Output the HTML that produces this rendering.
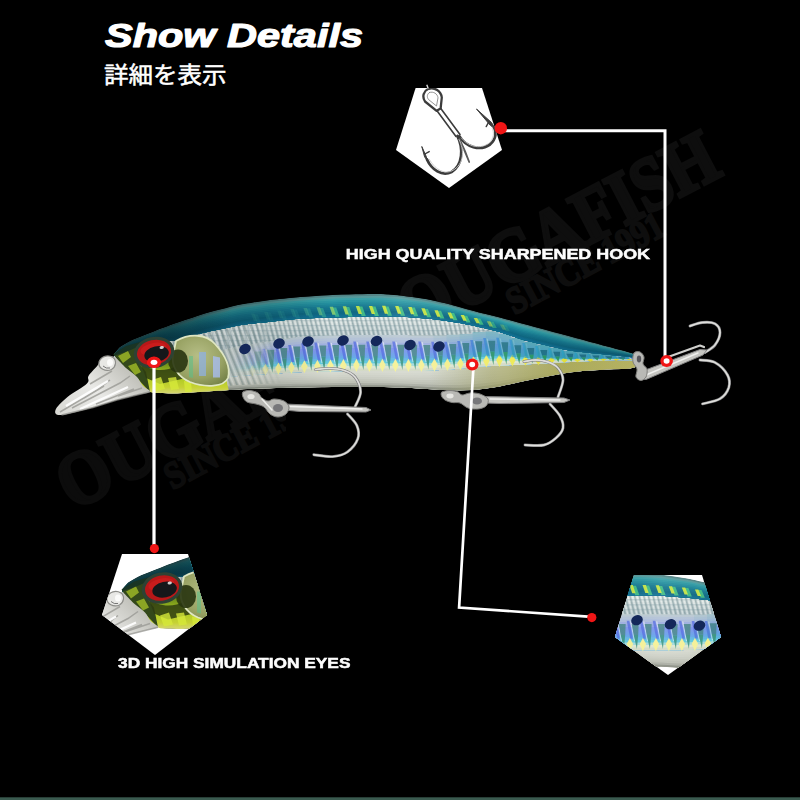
<!DOCTYPE html>
<html><head><meta charset="utf-8"><title>Show Details</title>
<style>
html,body{margin:0;padding:0;background:#000;}
body{width:800px;height:800px;overflow:hidden;font-family:"Liberation Sans",sans-serif;}
svg{display:block}
.lbl{font-family:"Liberation Sans",sans-serif;font-weight:700;fill:#fff;stroke:#fff;stroke-width:0.5}
.wm{font-family:"Liberation Serif",serif;font-weight:700;fill:#121212;stroke:#121212;stroke-width:3}
</style></head><body>
<svg width="800" height="800" viewBox="0 0 800 800">
<defs>

<clipPath id="bodyclip"><path d="M113.5,354.0C114.6,352.8 117.2,349.2 120.0,347.0C122.8,344.8 125.8,343.0 130.0,341.0C134.2,339.0 140.0,337.0 145.0,335.0C150.0,333.0 155.0,330.9 160.0,329.0C165.0,327.1 170.0,325.2 175.0,323.5C180.0,321.8 185.0,320.2 190.0,318.5C195.0,316.8 200.0,315.0 205.0,313.5C210.0,312.0 214.2,311.0 220.0,309.5C225.8,308.0 231.7,306.1 240.0,304.5C248.3,302.9 260.0,301.2 270.0,300.0C280.0,298.8 288.3,297.9 300.0,297.0C311.7,296.1 326.7,295.0 340.0,294.5C353.3,294.0 370.0,293.9 380.0,294.0C390.0,294.1 392.5,294.6 400.0,295.4C407.5,296.2 416.7,297.3 425.0,298.8C433.3,300.3 441.7,302.3 450.0,304.4C458.3,306.5 466.7,309.1 475.0,311.3C483.3,313.5 492.5,315.6 500.0,317.5C507.5,319.4 510.0,320.2 520.0,322.9C530.0,325.6 546.7,330.1 560.0,333.7C573.3,337.3 588.7,341.4 600.0,344.5C611.3,347.6 622.0,350.3 628.0,352.0C634.0,353.7 634.7,354.1 636.0,354.5L636.0,367.0C635.3,367.2 634.0,368.2 632.0,368.5C630.0,368.8 629.3,368.8 624.0,369.0C618.7,369.2 609.0,369.4 600.0,370.0C591.0,370.6 581.7,370.8 570.0,372.5C558.3,374.2 541.7,377.7 530.0,380.0C518.3,382.3 508.3,384.9 500.0,386.5C491.7,388.1 486.7,388.8 480.0,389.5C473.3,390.2 466.7,390.4 460.0,390.5C453.3,390.6 450.0,390.5 440.0,390.0C430.0,389.5 416.7,388.0 400.0,387.5C383.3,387.0 360.0,386.9 340.0,387.0C320.0,387.1 296.7,387.6 280.0,388.0C263.3,388.4 253.3,388.8 240.0,389.5C226.7,390.2 210.8,391.3 200.0,392.0C189.2,392.7 181.7,393.3 175.0,393.5C168.3,393.7 164.2,393.2 160.0,393.0C155.8,392.8 153.2,393.3 150.0,392.0C146.8,390.7 143.5,387.7 141.0,385.0C138.5,382.3 137.8,378.8 135.0,376.0C132.2,373.2 127.8,371.2 124.5,368.5C121.2,365.8 117.3,361.9 115.5,359.5C113.7,357.1 113.8,354.9 113.5,354.0Z"/></clipPath>
<linearGradient id="gshadex" x1="113" y1="0" x2="636" y2="0" gradientUnits="userSpaceOnUse">
 <stop offset="0" stop-color="#001014" stop-opacity="0.5"/><stop offset="0.14" stop-color="#001418" stop-opacity="0.34"/><stop offset="0.3" stop-color="#001418" stop-opacity="0.2"/><stop offset="0.42" stop-color="#001418" stop-opacity="0.0"/><stop offset="0.55" stop-color="#fff" stop-opacity="0.08"/><stop offset="0.75" stop-color="#001014" stop-opacity="0.0"/><stop offset="1" stop-color="#001014" stop-opacity="0.22"/>
</linearGradient>
<linearGradient id="golive" x1="430" y1="0" x2="636" y2="0" gradientUnits="userSpaceOnUse">
 <stop offset="0" stop-color="#a3a56e" stop-opacity="0"/><stop offset="0.3" stop-color="#a8a868" stop-opacity="0.6"/><stop offset="0.65" stop-color="#b3b160" stop-opacity="1"/><stop offset="1" stop-color="#c9c46a" stop-opacity="1"/>
</linearGradient>
<pattern id="pscale" width="4.6" height="5" patternUnits="userSpaceOnUse" patternTransform="skewX(14)">
 <rect x="0" width="1.5" height="5" fill="#5f7f88" opacity="0.45"/><rect x="2.4" width="1.2" height="5" fill="#fff" opacity="0.5"/><rect y="0" width="4.6" height="1.2" fill="#6f8f98" opacity="0.28"/>
</pattern>
<linearGradient id="glip" x1="60" y1="415" x2="120" y2="355" gradientUnits="userSpaceOnUse">
 <stop offset="0" stop-color="#d9d9d4"/><stop offset="0.5" stop-color="#e9e9e6"/><stop offset="1" stop-color="#bdbdb6"/>
</linearGradient>
<radialGradient id="ggill" cx="0.45" cy="0.4" r="0.75">
 <stop offset="0" stop-color="#b6be86"/><stop offset="0.6" stop-color="#97a162"/><stop offset="1" stop-color="#6c7a42"/>
</radialGradient>
<linearGradient id="ghead" x1="0" y1="360" x2="0" y2="394" gradientUnits="userSpaceOnUse">
 <stop offset="0" stop-color="#5c7a1a"/><stop offset="0.45" stop-color="#a8c81e"/><stop offset="0.8" stop-color="#c6d233"/><stop offset="1" stop-color="#d6d67a"/>
</linearGradient>
<linearGradient id="gsteel" x1="0" y1="0" x2="0" y2="1">
 <stop offset="0" stop-color="#e6e6e2"/><stop offset="0.5" stop-color="#b8b8b4"/><stop offset="1" stop-color="#8c8c88"/>
</linearGradient>

<clipPath id="cp1"><polygon points="415.6,88 482,88 502,150 449,188 396,150"/></clipPath>
<clipPath id="cp2"><polygon points="122,554 188,554 207,615 155,655 102,615"/></clipPath>
<clipPath id="cp3"><polygon points="634,575 702,575 721,637 668,675 615,637"/></clipPath>
<linearGradient id="g3teal" x1="0" y1="575" x2="0" y2="598" gradientUnits="userSpaceOnUse"><stop offset="0" stop-color="#3f9aa2"/><stop offset="0.35" stop-color="#63b5b5"/><stop offset="0.6" stop-color="#2b8b9a"/><stop offset="1" stop-color="#1f7f92"/></linearGradient>
<linearGradient id="g3holo" x1="0" y1="612" x2="0" y2="652" gradientUnits="userSpaceOnUse"><stop offset="0" stop-color="#a9bac4"/><stop offset="0.5" stop-color="#8fb0c4"/><stop offset="0.85" stop-color="#b5cbb0"/><stop offset="1" stop-color="#c9ccbc"/></linearGradient>
<pattern id="pscale3" width="5.4" height="5.2" patternUnits="userSpaceOnUse"><rect x="0" width="1.6" height="5.2" fill="#6f8f98" opacity="0.45"/><rect x="2.8" width="1.4" height="5.2" fill="#fff" opacity="0.5"/><rect width="5.4" height="1.3" fill="#6f8f98" opacity="0.3"/></pattern>
<linearGradient id="g2lime" x1="0" y1="596" x2="0" y2="628" gradientUnits="userSpaceOnUse"><stop offset="0" stop-color="#2c4216"/><stop offset="0.45" stop-color="#4c6a18"/><stop offset="0.7" stop-color="#93bb1c"/><stop offset="1" stop-color="#c3cf3a"/></linearGradient>
<clipPath id="cpwm"><rect x="0" y="380" width="286" height="200"/></clipPath>
<linearGradient id="gheadshade" x1="113" y1="0" x2="232" y2="0" gradientUnits="userSpaceOnUse"><stop offset="0" stop-color="#06262c" stop-opacity="0.6"/><stop offset="0.5" stop-color="#06262c" stop-opacity="0.5"/><stop offset="1" stop-color="#06262c" stop-opacity="0"/></linearGradient>
<linearGradient id="gsilverx" x1="200" y1="0" x2="275" y2="0" gradientUnits="userSpaceOnUse"><stop offset="0" stop-color="#c6d0cc" stop-opacity="1"/><stop offset="0.45" stop-color="#c6d0cc" stop-opacity="0.95"/><stop offset="1" stop-color="#c6d0cc" stop-opacity="0"/></linearGradient>
<linearGradient id="gribfade" x1="196" y1="0" x2="282" y2="0" gradientUnits="userSpaceOnUse"><stop offset="0" stop-color="#fff" stop-opacity="1"/><stop offset="0.6" stop-color="#fff" stop-opacity="0.8"/><stop offset="1" stop-color="#fff" stop-opacity="0"/></linearGradient>
<pattern id="pribs" width="6.2" height="80" patternUnits="userSpaceOnUse" patternTransform="skewX(22)"><rect x="0" width="2" height="80" fill="#7c8f90" opacity="0.6"/><rect x="3" width="1.8" height="80" fill="#fff" opacity="0.6"/></pattern>
<mask id="mribs" maskUnits="userSpaceOnUse" x="190" y="300" width="110" height="100"><rect x="190" y="300" width="110" height="100" fill="url(#gribfade)"/></mask>
<filter id="fblur" x="-30%" y="-30%" width="160%" height="160%"><feGaussianBlur stdDeviation="0.55"/></filter>

</defs>
<rect width="800" height="800" fill="#000"/>
<rect x="0" y="797.3" width="800" height="2.7" fill="#3a5a4f"/>
<g class="wm" opacity="1">
<g fill="#0e0e0e" stroke="#0e0e0e">
<text transform="translate(415,335) rotate(-27.5) scale(0.86,1)" font-size="76" stroke-width="4">OUGAFISH</text>
<text transform="translate(514.5,315) rotate(-28) scale(0.86,1)" font-size="38" stroke-width="2.2">SINCE 1991</text>
</g>
<g fill="#0c0c0c" stroke="#0c0c0c" clip-path="url(#cpwm)">
<text transform="translate(73,511) rotate(-27.5) scale(0.88,1)" font-size="76" stroke-width="4">OUGAFISH</text>
<text transform="translate(172.5,490) rotate(-28) scale(0.86,1)" font-size="38" stroke-width="2.2">SINCE 1991</text>
</g>
</g>

<text x="105" y="46.8" font-family="&quot;Liberation Sans&quot;, sans-serif" font-size="34" font-weight="700" font-style="italic" fill="#fff" stroke="#fff" stroke-width="1.2" stroke-linejoin="round" textLength="258" lengthAdjust="spacingAndGlyphs">Show Details</text>
<text x="104" y="82.9" font-family="&quot;Liberation Sans&quot;, &quot;Noto Sans CJK JP&quot;, sans-serif" font-size="22.5" fill="#fff" stroke="#fff" stroke-width="0.5" textLength="122.5" lengthAdjust="spacingAndGlyphs">詳細を表示</text>
<g fill="none" stroke="#fff" stroke-width="3" stroke-linejoin="miter">
<polyline points="505,130.7 665,130.7 665,357"/>
</g>
<g id="fish">
<g id="fishbody">
<g clip-path="url(#bodyclip)">
<path d="M114,380.0L120,380.0L127,380.0L133,380.0L140,380.0L146,380.0L153,380.0L159,380.0L166,380.0L172,380.0L179,380.0L185,380.0L192,380.0L198,380.0L205,379.3L211,378.5L218,377.7L225,377.2L231,376.6L238,376.1L244,375.5L251,375.0L257,374.6L264,374.2L270,373.8L277,373.4L283,373.0L290,372.6L296,372.2L303,371.9L309,371.8L316,371.7L322,371.6L329,371.4L336,371.3L342,371.2L349,371.0L355,371.0L362,371.0L368,371.0L375,371.0L381,371.0L388,371.0L394,371.0L401,371.0L407,371.0L414,371.0L420,371.0L427,370.6L434,370.3L440,370.0L447,369.7L453,369.2L460,368.5L466,367.9L473,367.2L479,366.6L486,366.2L492,366.0L499,365.7L505,365.4L512,365.1L518,364.8L525,364.5L532,364.1L538,363.8L545,363.4L551,363.1L558,362.7L564,362.3L571,362.0L577,361.7L584,361.4L590,361.1L597,360.8L603,360.5L610,360.2L616,360.0L623,360.2L629,360.3L636,360.5L636,367.0L629,368.7L623,369.0L616,369.3L610,369.6L603,369.9L597,370.3L590,370.8L584,371.4L577,371.9L571,372.4L564,373.6L558,374.8L551,376.0L545,377.3L538,378.5L532,379.7L525,381.1L518,382.5L512,383.9L505,385.3L499,386.7L492,387.7L486,388.6L479,389.5L473,389.9L466,390.2L460,390.5L453,390.3L447,390.2L440,390.0L434,389.6L427,389.2L420,388.8L414,388.4L407,388.0L401,387.6L394,387.5L388,387.4L381,387.3L375,387.3L368,387.2L362,387.2L355,387.1L349,387.1L342,387.0L336,387.1L329,387.2L322,387.3L316,387.4L309,387.5L303,387.6L296,387.7L290,387.8L283,387.9L277,388.1L270,388.4L264,388.6L257,388.9L251,389.1L244,389.3L238,389.7L231,390.1L225,390.5L218,390.9L211,391.3L205,391.7L198,392.1L192,392.5L185,392.9L179,393.3L172,393.4L166,393.2L159,392.9L153,392.3L146,389.0L140,382.9L133,374.6L127,370.0L120,364.0L114,354.0Z" fill="#d7dad0"/><path d="M114,376.8L120,378.0L127,378.7L133,379.3L140,380.4L146,381.1L153,381.5L159,381.6L166,381.6L172,381.7L179,381.7L185,381.6L192,381.6L198,381.5L205,380.9L211,380.1L218,379.4L225,378.8L231,378.3L238,377.8L244,377.2L251,376.7L257,376.4L264,376.0L270,375.6L277,375.2L283,374.9L290,374.5L296,374.2L303,373.9L309,373.8L316,373.6L322,373.5L329,373.4L336,373.3L342,373.1L349,373.0L355,373.0L362,373.0L368,373.0L375,373.0L381,373.0L388,373.0L394,373.1L401,373.1L407,373.1L414,373.2L420,373.2L427,373.0L434,372.7L440,372.5L447,372.2L453,371.8L460,371.3L466,370.7L473,370.1L479,369.4L486,369.0L492,368.7L499,368.3L505,367.9L512,367.4L518,367.0L525,366.6L532,366.1L538,365.6L545,365.1L551,364.7L558,364.2L564,363.7L571,363.3L577,363.0L584,362.6L590,362.3L597,362.0L603,361.7L610,361.4L616,361.2L623,361.3L629,361.4L636,361.3L636,367.0L629,368.7L623,369.0L616,369.3L610,369.6L603,369.9L597,370.3L590,370.8L584,371.4L577,371.9L571,372.4L564,373.6L558,374.8L551,376.0L545,377.3L538,378.5L532,379.7L525,381.1L518,382.5L512,383.9L505,385.3L499,386.7L492,387.7L486,388.6L479,389.5L473,389.9L466,390.2L460,390.5L453,390.3L447,390.2L440,390.0L434,389.6L427,389.2L420,388.8L414,388.4L407,388.0L401,387.6L394,387.5L388,387.4L381,387.3L375,387.3L368,387.2L362,387.2L355,387.1L349,387.1L342,387.0L336,387.1L329,387.2L322,387.3L316,387.4L309,387.5L303,387.6L296,387.7L290,387.8L283,387.9L277,388.1L270,388.4L264,388.6L257,388.9L251,389.1L244,389.3L238,389.7L231,390.1L225,390.5L218,390.9L211,391.3L205,391.7L198,392.1L192,392.5L185,392.9L179,393.3L172,393.4L166,393.2L159,392.9L153,392.3L146,389.0L140,382.9L133,374.6L127,370.0L120,364.0L114,354.0Z" fill="#d4d7cd"/><path d="M114,373.5L120,376.0L127,377.5L133,378.7L140,380.7L146,382.3L153,383.1L159,383.2L166,383.3L172,383.4L179,383.3L185,383.2L192,383.1L198,383.0L205,382.4L211,381.7L218,381.0L225,380.5L231,380.0L238,379.5L244,379.0L251,378.5L257,378.1L264,377.8L270,377.4L277,377.1L283,376.7L290,376.4L296,376.1L303,375.9L309,375.7L316,375.6L322,375.5L329,375.4L336,375.2L342,375.1L349,375.0L355,375.0L362,375.0L368,375.1L375,375.1L381,375.1L388,375.1L394,375.1L401,375.1L407,375.2L414,375.3L420,375.4L427,375.3L434,375.1L440,375.0L447,374.8L453,374.5L460,374.0L466,373.5L473,372.9L479,372.3L486,371.8L492,371.4L499,370.9L505,370.4L512,369.8L518,369.2L525,368.6L532,368.0L538,367.5L545,366.9L551,366.3L558,365.7L564,365.1L571,364.6L577,364.2L584,363.9L590,363.5L597,363.2L603,362.9L610,362.6L616,362.4L623,362.4L629,362.4L636,362.1L636,367.0L629,368.7L623,369.0L616,369.3L610,369.6L603,369.9L597,370.3L590,370.8L584,371.4L577,371.9L571,372.4L564,373.6L558,374.8L551,376.0L545,377.3L538,378.5L532,379.7L525,381.1L518,382.5L512,383.9L505,385.3L499,386.7L492,387.7L486,388.6L479,389.5L473,389.9L466,390.2L460,390.5L453,390.3L447,390.2L440,390.0L434,389.6L427,389.2L420,388.8L414,388.4L407,388.0L401,387.6L394,387.5L388,387.4L381,387.3L375,387.3L368,387.2L362,387.2L355,387.1L349,387.1L342,387.0L336,387.1L329,387.2L322,387.3L316,387.4L309,387.5L303,387.6L296,387.7L290,387.8L283,387.9L277,388.1L270,388.4L264,388.6L257,388.9L251,389.1L244,389.3L238,389.7L231,390.1L225,390.5L218,390.9L211,391.3L205,391.7L198,392.1L192,392.5L185,392.9L179,393.3L172,393.4L166,393.2L159,392.9L153,392.3L146,389.0L140,382.9L133,374.6L127,370.0L120,364.0L114,354.0Z" fill="#d0d3c9"/><path d="M114,370.2L120,374.0L127,376.2L133,378.0L140,381.1L146,383.4L153,384.6L159,384.8L166,384.9L172,385.0L179,385.0L185,384.8L192,384.7L198,384.5L205,384.0L211,383.3L218,382.7L225,382.2L231,381.7L238,381.2L244,380.7L251,380.3L257,379.9L264,379.6L270,379.3L277,378.9L283,378.6L290,378.3L296,378.0L303,377.8L309,377.7L316,377.6L322,377.5L329,377.3L336,377.2L342,377.1L349,377.0L355,377.0L362,377.1L368,377.1L375,377.1L381,377.1L388,377.1L394,377.2L401,377.2L407,377.4L414,377.5L420,377.7L427,377.6L434,377.6L440,377.5L447,377.4L453,377.1L460,376.8L466,376.2L473,375.7L479,375.2L486,374.6L492,374.1L499,373.5L505,372.9L512,372.1L518,371.4L525,370.7L532,370.0L538,369.3L545,368.6L551,367.9L558,367.2L564,366.6L571,365.9L577,365.5L584,365.1L590,364.7L597,364.4L603,364.0L610,363.7L616,363.5L623,363.5L629,363.5L636,362.9L636,367.0L629,368.7L623,369.0L616,369.3L610,369.6L603,369.9L597,370.3L590,370.8L584,371.4L577,371.9L571,372.4L564,373.6L558,374.8L551,376.0L545,377.3L538,378.5L532,379.7L525,381.1L518,382.5L512,383.9L505,385.3L499,386.7L492,387.7L486,388.6L479,389.5L473,389.9L466,390.2L460,390.5L453,390.3L447,390.2L440,390.0L434,389.6L427,389.2L420,388.8L414,388.4L407,388.0L401,387.6L394,387.5L388,387.4L381,387.3L375,387.3L368,387.2L362,387.2L355,387.1L349,387.1L342,387.0L336,387.1L329,387.2L322,387.3L316,387.4L309,387.5L303,387.6L296,387.7L290,387.8L283,387.9L277,388.1L270,388.4L264,388.6L257,388.9L251,389.1L244,389.3L238,389.7L231,390.1L225,390.5L218,390.9L211,391.3L205,391.7L198,392.1L192,392.5L185,392.9L179,393.3L172,393.4L166,393.2L159,392.9L153,392.3L146,389.0L140,382.9L133,374.6L127,370.0L120,364.0L114,354.0Z" fill="#cbcec4"/><path d="M114,367.0L120,372.0L127,375.0L133,377.3L140,381.5L146,384.5L153,386.1L159,386.5L166,386.6L172,386.7L179,386.6L185,386.4L192,386.2L198,386.0L205,385.5L211,384.9L218,384.3L225,383.8L231,383.3L238,382.9L244,382.4L251,382.0L257,381.7L264,381.4L270,381.1L277,380.8L283,380.5L290,380.2L296,380.0L303,379.8L309,379.7L316,379.5L322,379.4L329,379.3L336,379.2L342,379.1L349,379.0L355,379.1L362,379.1L368,379.1L375,379.1L381,379.2L388,379.2L394,379.2L401,379.3L407,379.5L414,379.7L420,379.9L427,379.9L434,380.0L440,380.0L447,379.9L453,379.8L460,379.5L466,379.0L473,378.5L479,378.1L486,377.4L492,376.8L499,376.2L505,375.4L512,374.5L518,373.6L525,372.8L532,371.9L538,371.1L545,370.3L551,369.5L558,368.8L564,368.0L571,367.2L577,366.8L584,366.4L590,366.0L597,365.5L603,365.2L610,364.9L616,364.7L623,364.6L629,364.5L636,363.8L636,367.0L629,368.7L623,369.0L616,369.3L610,369.6L603,369.9L597,370.3L590,370.8L584,371.4L577,371.9L571,372.4L564,373.6L558,374.8L551,376.0L545,377.3L538,378.5L532,379.7L525,381.1L518,382.5L512,383.9L505,385.3L499,386.7L492,387.7L486,388.6L479,389.5L473,389.9L466,390.2L460,390.5L453,390.3L447,390.2L440,390.0L434,389.6L427,389.2L420,388.8L414,388.4L407,388.0L401,387.6L394,387.5L388,387.4L381,387.3L375,387.3L368,387.2L362,387.2L355,387.1L349,387.1L342,387.0L336,387.1L329,387.2L322,387.3L316,387.4L309,387.5L303,387.6L296,387.7L290,387.8L283,387.9L277,388.1L270,388.4L264,388.6L257,388.9L251,389.1L244,389.3L238,389.7L231,390.1L225,390.5L218,390.9L211,391.3L205,391.7L198,392.1L192,392.5L185,392.9L179,393.3L172,393.4L166,393.2L159,392.9L153,392.3L146,389.0L140,382.9L133,374.6L127,370.0L120,364.0L114,354.0Z" fill="#c5c8bd"/><path d="M114,363.8L120,370.0L127,373.7L133,376.6L140,381.8L146,385.6L153,387.7L159,388.1L166,388.2L172,388.4L179,388.3L185,388.0L192,387.8L198,387.6L205,387.1L211,386.5L218,386.0L225,385.5L231,385.0L238,384.6L244,384.2L251,383.8L257,383.5L264,383.2L270,382.9L277,382.6L283,382.3L290,382.1L296,381.9L303,381.7L309,381.6L316,381.5L322,381.4L329,381.3L336,381.2L342,381.1L349,381.1L355,381.1L362,381.1L368,381.1L375,381.2L381,381.2L388,381.2L394,381.3L401,381.3L407,381.6L414,381.9L420,382.1L427,382.2L434,382.4L440,382.5L447,382.5L453,382.4L460,382.3L466,381.8L473,381.4L479,380.9L486,380.2L492,379.5L499,378.8L505,377.8L512,376.9L518,375.9L525,374.9L532,373.9L538,373.0L545,372.1L551,371.2L558,370.3L564,369.4L571,368.5L577,368.1L584,367.6L590,367.2L597,366.7L603,366.4L610,366.1L616,365.8L623,365.7L629,365.5L636,364.6L636,367.0L629,368.7L623,369.0L616,369.3L610,369.6L603,369.9L597,370.3L590,370.8L584,371.4L577,371.9L571,372.4L564,373.6L558,374.8L551,376.0L545,377.3L538,378.5L532,379.7L525,381.1L518,382.5L512,383.9L505,385.3L499,386.7L492,387.7L486,388.6L479,389.5L473,389.9L466,390.2L460,390.5L453,390.3L447,390.2L440,390.0L434,389.6L427,389.2L420,388.8L414,388.4L407,388.0L401,387.6L394,387.5L388,387.4L381,387.3L375,387.3L368,387.2L362,387.2L355,387.1L349,387.1L342,387.0L336,387.1L329,387.2L322,387.3L316,387.4L309,387.5L303,387.6L296,387.7L290,387.8L283,387.9L277,388.1L270,388.4L264,388.6L257,388.9L251,389.1L244,389.3L238,389.7L231,390.1L225,390.5L218,390.9L211,391.3L205,391.7L198,392.1L192,392.5L185,392.9L179,393.3L172,393.4L166,393.2L159,392.9L153,392.3L146,389.0L140,382.9L133,374.6L127,370.0L120,364.0L114,354.0Z" fill="#bfc2b7"/><path d="M114,360.5L120,368.0L127,372.5L133,376.0L140,382.2L146,386.8L153,389.2L159,389.7L166,389.9L172,390.1L179,390.0L185,389.7L192,389.4L198,389.1L205,388.6L211,388.1L218,387.6L225,387.1L231,386.7L238,386.3L244,385.9L251,385.6L257,385.3L264,385.0L270,384.7L277,384.4L283,384.2L290,384.0L296,383.8L303,383.7L309,383.6L316,383.5L322,383.4L329,383.2L336,383.1L342,383.1L349,383.1L355,383.1L362,383.1L368,383.2L375,383.2L381,383.3L388,383.3L394,383.3L401,383.4L407,383.7L414,384.0L420,384.3L427,384.6L434,384.8L440,385.0L447,385.0L453,385.0L460,385.0L466,384.6L473,384.2L479,383.8L486,383.0L492,382.2L499,381.4L505,380.3L512,379.2L518,378.1L525,376.9L532,375.8L538,374.8L545,373.8L551,372.8L558,371.8L564,370.8L571,369.8L577,369.3L584,368.9L590,368.4L597,367.9L603,367.5L610,367.2L616,367.0L623,366.8L629,366.6L636,365.4L636,367.0L629,368.7L623,369.0L616,369.3L610,369.6L603,369.9L597,370.3L590,370.8L584,371.4L577,371.9L571,372.4L564,373.6L558,374.8L551,376.0L545,377.3L538,378.5L532,379.7L525,381.1L518,382.5L512,383.9L505,385.3L499,386.7L492,387.7L486,388.6L479,389.5L473,389.9L466,390.2L460,390.5L453,390.3L447,390.2L440,390.0L434,389.6L427,389.2L420,388.8L414,388.4L407,388.0L401,387.6L394,387.5L388,387.4L381,387.3L375,387.3L368,387.2L362,387.2L355,387.1L349,387.1L342,387.0L336,387.1L329,387.2L322,387.3L316,387.4L309,387.5L303,387.6L296,387.7L290,387.8L283,387.9L277,388.1L270,388.4L264,388.6L257,388.9L251,389.1L244,389.3L238,389.7L231,390.1L225,390.5L218,390.9L211,391.3L205,391.7L198,392.1L192,392.5L185,392.9L179,393.3L172,393.4L166,393.2L159,392.9L153,392.3L146,389.0L140,382.9L133,374.6L127,370.0L120,364.0L114,354.0Z" fill="#adb0a6"/><path d="M114,357.2L120,366.0L127,371.2L133,375.3L140,382.6L146,387.9L153,390.7L159,391.3L166,391.5L172,391.7L179,391.6L185,391.3L192,390.9L198,390.6L205,390.1L211,389.7L218,389.2L225,388.8L231,388.4L238,388.0L244,387.6L251,387.3L257,387.1L264,386.8L270,386.5L277,386.3L283,386.1L290,385.9L296,385.8L303,385.7L309,385.5L316,385.4L322,385.3L329,385.2L336,385.1L342,385.0L349,385.1L355,385.1L362,385.2L368,385.2L375,385.3L381,385.3L388,385.3L394,385.4L401,385.5L407,385.8L414,386.2L420,386.6L427,386.9L434,387.2L440,387.5L447,387.6L453,387.7L460,387.7L466,387.4L473,387.0L479,386.7L486,385.8L492,384.9L499,384.0L505,382.8L512,381.6L518,380.3L525,379.0L532,377.8L538,376.7L545,375.5L551,374.4L558,373.3L564,372.2L571,371.1L577,370.6L584,370.1L590,369.6L597,369.1L603,368.7L610,368.4L616,368.2L623,367.9L629,367.6L636,366.2L636,367.0L629,368.7L623,369.0L616,369.3L610,369.6L603,369.9L597,370.3L590,370.8L584,371.4L577,371.9L571,372.4L564,373.6L558,374.8L551,376.0L545,377.3L538,378.5L532,379.7L525,381.1L518,382.5L512,383.9L505,385.3L499,386.7L492,387.7L486,388.6L479,389.5L473,389.9L466,390.2L460,390.5L453,390.3L447,390.2L440,390.0L434,389.6L427,389.2L420,388.8L414,388.4L407,388.0L401,387.6L394,387.5L388,387.4L381,387.3L375,387.3L368,387.2L362,387.2L355,387.1L349,387.1L342,387.0L336,387.1L329,387.2L322,387.3L316,387.4L309,387.5L303,387.6L296,387.7L290,387.8L283,387.9L277,388.1L270,388.4L264,388.6L257,388.9L251,389.1L244,389.3L238,389.7L231,390.1L225,390.5L218,390.9L211,391.3L205,391.7L198,392.1L192,392.5L185,392.9L179,393.3L172,393.4L166,393.2L159,392.9L153,392.3L146,389.0L140,382.9L133,374.6L127,370.0L120,364.0L114,354.0Z" fill="#8f9388"/>
<path d="M114,380.0L120,380.0L127,380.0L133,380.0L140,380.0L146,380.0L153,380.0L159,380.0L166,380.0L172,380.0L179,380.0L185,380.0L192,380.0L198,380.0L205,379.3L211,378.5L218,377.7L225,377.2L231,376.6L238,376.1L244,375.5L251,375.0L257,374.6L264,374.2L270,373.8L277,373.4L283,373.0L290,372.6L296,372.2L303,371.9L309,371.8L316,371.7L322,371.6L329,371.4L336,371.3L342,371.2L349,371.0L355,371.0L362,371.0L368,371.0L375,371.0L381,371.0L388,371.0L394,371.0L401,371.0L407,371.0L414,371.0L420,371.0L427,370.6L434,370.3L440,370.0L447,369.7L453,369.2L460,368.5L466,367.9L473,367.2L479,366.6L486,366.2L492,366.0L499,365.7L505,365.4L512,365.1L518,364.8L525,364.5L532,364.1L538,363.8L545,363.4L551,363.1L558,362.7L564,362.3L571,362.0L577,361.7L584,361.4L590,361.1L597,360.8L603,360.5L610,360.2L616,360.0L623,360.2L629,360.3L636,360.5L636,367.0L629,368.7L623,369.0L616,369.3L610,369.6L603,369.9L597,370.3L590,370.8L584,371.4L577,371.9L571,372.4L564,373.6L558,374.8L551,376.0L545,377.3L538,378.5L532,379.7L525,381.1L518,382.5L512,383.9L505,385.3L499,386.7L492,387.7L486,388.6L479,389.5L473,389.9L466,390.2L460,390.5L453,390.3L447,390.2L440,390.0L434,389.6L427,389.2L420,388.8L414,388.4L407,388.0L401,387.6L394,387.5L388,387.4L381,387.3L375,387.3L368,387.2L362,387.2L355,387.1L349,387.1L342,387.0L336,387.1L329,387.2L322,387.3L316,387.4L309,387.5L303,387.6L296,387.7L290,387.8L283,387.9L277,388.1L270,388.4L264,388.6L257,388.9L251,389.1L244,389.3L238,389.7L231,390.1L225,390.5L218,390.9L211,391.3L205,391.7L198,392.1L192,392.5L185,392.9L179,393.3L172,393.4L166,393.2L159,392.9L153,392.3L146,389.0L140,382.9L133,374.6L127,370.0L120,364.0L114,354.0Z" fill="url(#golive)"/>
<path d="M114,356.0L120,356.0L127,356.0L133,356.0L140,356.0L146,356.0L153,356.0L159,356.0L166,356.0L172,356.0L179,356.0L185,356.0L192,356.0L198,356.0L205,354.7L211,352.9L218,351.3L225,349.7L231,348.1L238,346.6L244,345.3L251,344.2L257,343.1L264,342.0L270,341.0L277,340.0L283,339.0L290,338.0L296,337.0L303,336.4L309,336.2L316,336.0L322,335.8L329,335.6L336,335.4L342,335.2L349,335.0L355,335.0L362,335.0L368,335.0L375,335.0L381,335.0L388,335.0L394,335.0L401,335.0L407,335.1L414,335.2L420,335.3L427,335.3L434,335.4L440,335.5L447,335.1L453,334.7L460,334.3L466,333.8L473,332.8L479,331.9L486,331.1L492,331.5L499,331.9L505,333.8L512,336.0L518,338.3L525,340.5L532,342.0L538,343.5L545,345.0L551,346.4L558,347.9L564,349.4L571,350.8L577,351.5L584,352.2L590,352.9L597,353.6L603,354.3L610,355.0L616,355.6L623,356.3L629,356.9L636,357.5L636,360.5L629,360.3L623,360.2L616,360.0L610,360.2L603,360.5L597,360.8L590,361.1L584,361.4L577,361.7L571,362.0L564,362.3L558,362.7L551,363.1L545,363.4L538,363.8L532,364.1L525,364.5L518,364.8L512,365.1L505,365.4L499,365.7L492,366.0L486,366.2L479,366.6L473,367.2L466,367.9L460,368.5L453,369.2L447,369.7L440,370.0L434,370.3L427,370.6L420,371.0L414,371.0L407,371.0L401,371.0L394,371.0L388,371.0L381,371.0L375,371.0L368,371.0L362,371.0L355,371.0L349,371.0L342,371.2L336,371.3L329,371.4L322,371.6L316,371.7L309,371.8L303,371.9L296,372.2L290,372.6L283,373.0L277,373.4L270,373.8L264,374.2L257,374.6L251,375.0L244,375.5L238,376.1L231,376.6L225,377.2L218,377.7L211,378.5L205,379.3L198,380.0L192,380.0L185,380.0L179,380.0L172,380.0L166,380.0L159,380.0L153,380.0L146,380.0L140,380.0L133,380.0L127,380.0L120,380.0L114,380.0Z" fill="#bccad4"/><path d="M114,357.7L120,357.7L127,357.7L133,357.7L140,357.7L146,357.7L153,357.7L159,357.7L166,357.7L172,357.7L179,357.7L185,357.7L192,357.7L198,357.7L205,356.4L211,354.8L218,353.2L225,351.7L231,350.2L238,348.7L244,347.5L251,346.4L257,345.4L264,344.3L270,343.3L277,342.4L283,341.4L290,340.5L296,339.6L303,339.0L309,338.8L316,338.6L322,338.4L329,338.2L336,338.0L342,337.8L349,337.6L355,337.6L362,337.6L368,337.6L375,337.6L381,337.6L388,337.6L394,337.6L401,337.6L407,337.7L414,337.7L420,337.8L427,337.9L434,337.9L440,338.0L447,337.6L453,337.2L460,336.8L466,336.3L473,335.3L479,334.3L486,333.6L492,333.9L499,334.3L505,336.1L512,338.1L518,340.2L525,342.2L532,343.6L538,344.9L545,346.3L551,347.6L558,349.0L564,350.3L571,351.6L577,352.2L584,352.9L590,353.5L597,354.1L603,354.7L610,355.3L616,355.9L623,356.5L629,357.1L636,357.7L636,360.5L629,360.3L623,360.2L616,360.0L610,360.2L603,360.5L597,360.8L590,361.1L584,361.4L577,361.7L571,362.0L564,362.3L558,362.7L551,363.1L545,363.4L538,363.8L532,364.1L525,364.5L518,364.8L512,365.1L505,365.4L499,365.7L492,366.0L486,366.2L479,366.6L473,367.2L466,367.9L460,368.5L453,369.2L447,369.7L440,370.0L434,370.3L427,370.6L420,371.0L414,371.0L407,371.0L401,371.0L394,371.0L388,371.0L381,371.0L375,371.0L368,371.0L362,371.0L355,371.0L349,371.0L342,371.2L336,371.3L329,371.4L322,371.6L316,371.7L309,371.8L303,371.9L296,372.2L290,372.6L283,373.0L277,373.4L270,373.8L264,374.2L257,374.6L251,375.0L244,375.5L238,376.1L231,376.6L225,377.2L218,377.7L211,378.5L205,379.3L198,380.0L192,380.0L185,380.0L179,380.0L172,380.0L166,380.0L159,380.0L153,380.0L146,380.0L140,380.0L133,380.0L127,380.0L120,380.0L114,380.0Z" fill="#b5c4d8"/><path d="M114,359.4L120,359.4L127,359.4L133,359.4L140,359.4L146,359.4L153,359.4L159,359.4L166,359.4L172,359.4L179,359.4L185,359.4L192,359.4L198,359.4L205,358.2L211,356.6L218,355.1L225,353.6L231,352.2L238,350.8L244,349.6L251,348.6L257,347.6L264,346.6L270,345.7L277,344.8L283,343.9L290,343.0L296,342.1L303,341.5L309,341.3L316,341.1L322,340.9L329,340.7L336,340.6L342,340.4L349,340.2L355,340.1L362,340.1L368,340.1L375,340.1L381,340.1L388,340.1L394,340.1L401,340.2L407,340.2L414,340.3L420,340.4L427,340.4L434,340.4L440,340.4L447,340.0L453,339.6L460,339.2L466,338.7L473,337.8L479,336.8L486,336.1L492,336.4L499,336.7L505,338.3L512,340.2L518,342.1L525,343.9L532,345.1L538,346.4L545,347.6L551,348.8L558,350.0L564,351.3L571,352.4L577,353.0L584,353.5L590,354.1L597,354.6L603,355.2L610,355.7L616,356.3L623,356.8L629,357.4L636,357.9L636,360.5L629,360.3L623,360.2L616,360.0L610,360.2L603,360.5L597,360.8L590,361.1L584,361.4L577,361.7L571,362.0L564,362.3L558,362.7L551,363.1L545,363.4L538,363.8L532,364.1L525,364.5L518,364.8L512,365.1L505,365.4L499,365.7L492,366.0L486,366.2L479,366.6L473,367.2L466,367.9L460,368.5L453,369.2L447,369.7L440,370.0L434,370.3L427,370.6L420,371.0L414,371.0L407,371.0L401,371.0L394,371.0L388,371.0L381,371.0L375,371.0L368,371.0L362,371.0L355,371.0L349,371.0L342,371.2L336,371.3L329,371.4L322,371.6L316,371.7L309,371.8L303,371.9L296,372.2L290,372.6L283,373.0L277,373.4L270,373.8L264,374.2L257,374.6L251,375.0L244,375.5L238,376.1L231,376.6L225,377.2L218,377.7L211,378.5L205,379.3L198,380.0L192,380.0L185,380.0L179,380.0L172,380.0L166,380.0L159,380.0L153,380.0L146,380.0L140,380.0L133,380.0L127,380.0L120,380.0L114,380.0Z" fill="#afbedd"/><path d="M114,361.1L120,361.1L127,361.1L133,361.1L140,361.1L146,361.1L153,361.1L159,361.1L166,361.1L172,361.1L179,361.1L185,361.1L192,361.1L198,361.1L205,360.0L211,358.4L218,357.0L225,355.6L231,354.2L238,352.9L244,351.8L251,350.8L257,349.9L264,348.9L270,348.0L277,347.1L283,346.3L290,345.4L296,344.6L303,344.0L309,343.8L316,343.7L322,343.5L329,343.3L336,343.1L342,342.9L349,342.8L355,342.7L362,342.7L368,342.7L375,342.7L381,342.7L388,342.7L394,342.7L401,342.7L407,342.8L414,342.9L420,342.9L427,342.9L434,342.9L440,342.9L447,342.5L453,342.1L460,341.7L466,341.1L473,340.2L479,339.3L486,338.6L492,338.9L499,339.2L505,340.6L512,342.3L518,344.0L525,345.6L532,346.7L538,347.8L545,348.9L551,350.0L558,351.1L564,352.2L571,353.2L577,353.7L584,354.2L590,354.6L597,355.1L603,355.6L610,356.1L616,356.6L623,357.1L629,357.6L636,358.1L636,360.5L629,360.3L623,360.2L616,360.0L610,360.2L603,360.5L597,360.8L590,361.1L584,361.4L577,361.7L571,362.0L564,362.3L558,362.7L551,363.1L545,363.4L538,363.8L532,364.1L525,364.5L518,364.8L512,365.1L505,365.4L499,365.7L492,366.0L486,366.2L479,366.6L473,367.2L466,367.9L460,368.5L453,369.2L447,369.7L440,370.0L434,370.3L427,370.6L420,371.0L414,371.0L407,371.0L401,371.0L394,371.0L388,371.0L381,371.0L375,371.0L368,371.0L362,371.0L355,371.0L349,371.0L342,371.2L336,371.3L329,371.4L322,371.6L316,371.7L309,371.8L303,371.9L296,372.2L290,372.6L283,373.0L277,373.4L270,373.8L264,374.2L257,374.6L251,375.0L244,375.5L238,376.1L231,376.6L225,377.2L218,377.7L211,378.5L205,379.3L198,380.0L192,380.0L185,380.0L179,380.0L172,380.0L166,380.0L159,380.0L153,380.0L146,380.0L140,380.0L133,380.0L127,380.0L120,380.0L114,380.0Z" fill="#a2b2e2"/><path d="M114,362.9L120,362.9L127,362.9L133,362.9L140,362.9L146,362.9L153,362.9L159,362.9L166,362.9L172,362.9L179,362.9L185,362.9L192,362.9L198,362.9L205,361.7L211,360.2L218,358.8L225,357.6L231,356.3L238,355.0L244,353.9L251,353.0L257,352.1L264,351.2L270,350.3L277,349.5L283,348.7L290,347.9L296,347.1L303,346.6L309,346.4L316,346.2L322,346.0L329,345.9L336,345.7L342,345.5L349,345.3L355,345.3L362,345.3L368,345.3L375,345.3L381,345.3L388,345.3L394,345.3L401,345.3L407,345.4L414,345.4L420,345.5L427,345.4L434,345.4L440,345.4L447,345.0L453,344.6L460,344.1L466,343.6L473,342.7L479,341.8L486,341.1L492,341.3L499,341.6L505,342.8L512,344.3L518,345.8L525,347.3L532,348.3L538,349.3L545,350.2L551,351.2L558,352.1L564,353.1L571,354.0L577,354.4L584,354.8L590,355.2L597,355.6L603,356.1L610,356.5L616,356.9L623,357.4L629,357.9L636,358.4L636,360.5L629,360.3L623,360.2L616,360.0L610,360.2L603,360.5L597,360.8L590,361.1L584,361.4L577,361.7L571,362.0L564,362.3L558,362.7L551,363.1L545,363.4L538,363.8L532,364.1L525,364.5L518,364.8L512,365.1L505,365.4L499,365.7L492,366.0L486,366.2L479,366.6L473,367.2L466,367.9L460,368.5L453,369.2L447,369.7L440,370.0L434,370.3L427,370.6L420,371.0L414,371.0L407,371.0L401,371.0L394,371.0L388,371.0L381,371.0L375,371.0L368,371.0L362,371.0L355,371.0L349,371.0L342,371.2L336,371.3L329,371.4L322,371.6L316,371.7L309,371.8L303,371.9L296,372.2L290,372.6L283,373.0L277,373.4L270,373.8L264,374.2L257,374.6L251,375.0L244,375.5L238,376.1L231,376.6L225,377.2L218,377.7L211,378.5L205,379.3L198,380.0L192,380.0L185,380.0L179,380.0L172,380.0L166,380.0L159,380.0L153,380.0L146,380.0L140,380.0L133,380.0L127,380.0L120,380.0L114,380.0Z" fill="#91a5e6"/><path d="M114,364.6L120,364.6L127,364.6L133,364.6L140,364.6L146,364.6L153,364.6L159,364.6L166,364.6L172,364.6L179,364.6L185,364.6L192,364.6L198,364.6L205,363.5L211,362.1L218,360.7L225,359.5L231,358.3L238,357.1L244,356.1L251,355.2L257,354.4L264,353.5L270,352.7L277,351.9L283,351.1L290,350.4L296,349.6L303,349.1L309,348.9L316,348.8L322,348.6L329,348.4L336,348.2L342,348.1L349,347.9L355,347.9L362,347.9L368,347.9L375,347.9L381,347.9L388,347.9L394,347.9L401,347.9L407,347.9L414,348.0L420,348.0L427,347.9L434,347.9L440,347.8L447,347.4L453,347.0L460,346.5L466,346.0L473,345.1L479,344.3L486,343.6L492,343.8L499,344.0L505,345.1L512,346.4L518,347.7L525,349.1L532,349.9L538,350.7L545,351.5L551,352.4L558,353.2L564,354.0L571,354.8L577,355.1L584,355.5L590,355.8L597,356.2L603,356.5L610,356.8L616,357.2L623,357.7L629,358.1L636,358.6L636,360.5L629,360.3L623,360.2L616,360.0L610,360.2L603,360.5L597,360.8L590,361.1L584,361.4L577,361.7L571,362.0L564,362.3L558,362.7L551,363.1L545,363.4L538,363.8L532,364.1L525,364.5L518,364.8L512,365.1L505,365.4L499,365.7L492,366.0L486,366.2L479,366.6L473,367.2L466,367.9L460,368.5L453,369.2L447,369.7L440,370.0L434,370.3L427,370.6L420,371.0L414,371.0L407,371.0L401,371.0L394,371.0L388,371.0L381,371.0L375,371.0L368,371.0L362,371.0L355,371.0L349,371.0L342,371.2L336,371.3L329,371.4L322,371.6L316,371.7L309,371.8L303,371.9L296,372.2L290,372.6L283,373.0L277,373.4L270,373.8L264,374.2L257,374.6L251,375.0L244,375.5L238,376.1L231,376.6L225,377.2L218,377.7L211,378.5L205,379.3L198,380.0L192,380.0L185,380.0L179,380.0L172,380.0L166,380.0L159,380.0L153,380.0L146,380.0L140,380.0L133,380.0L127,380.0L120,380.0L114,380.0Z" fill="#8197ec"/><path d="M114,366.3L120,366.3L127,366.3L133,366.3L140,366.3L146,366.3L153,366.3L159,366.3L166,366.3L172,366.3L179,366.3L185,366.3L192,366.3L198,366.3L205,365.3L211,363.9L218,362.6L225,361.5L231,360.3L238,359.2L244,358.3L251,357.4L257,356.6L264,355.8L270,355.0L277,354.3L283,353.6L290,352.8L296,352.1L303,351.6L309,351.5L316,351.3L322,351.1L329,351.0L336,350.8L342,350.6L349,350.5L355,350.4L362,350.4L368,350.4L375,350.4L381,350.4L388,350.4L394,350.4L401,350.4L407,350.5L414,350.5L420,350.6L427,350.5L434,350.4L440,350.3L447,349.9L453,349.5L460,349.0L466,348.4L473,347.6L479,346.7L486,346.1L492,346.3L499,346.4L505,347.3L512,348.5L518,349.6L525,350.8L532,351.5L538,352.2L545,352.9L551,353.6L558,354.3L564,354.9L571,355.6L577,355.9L584,356.1L590,356.4L597,356.7L603,356.9L610,357.2L616,357.5L623,357.9L629,358.4L636,358.8L636,360.5L629,360.3L623,360.2L616,360.0L610,360.2L603,360.5L597,360.8L590,361.1L584,361.4L577,361.7L571,362.0L564,362.3L558,362.7L551,363.1L545,363.4L538,363.8L532,364.1L525,364.5L518,364.8L512,365.1L505,365.4L499,365.7L492,366.0L486,366.2L479,366.6L473,367.2L466,367.9L460,368.5L453,369.2L447,369.7L440,370.0L434,370.3L427,370.6L420,371.0L414,371.0L407,371.0L401,371.0L394,371.0L388,371.0L381,371.0L375,371.0L368,371.0L362,371.0L355,371.0L349,371.0L342,371.2L336,371.3L329,371.4L322,371.6L316,371.7L309,371.8L303,371.9L296,372.2L290,372.6L283,373.0L277,373.4L270,373.8L264,374.2L257,374.6L251,375.0L244,375.5L238,376.1L231,376.6L225,377.2L218,377.7L211,378.5L205,379.3L198,380.0L192,380.0L185,380.0L179,380.0L172,380.0L166,380.0L159,380.0L153,380.0L146,380.0L140,380.0L133,380.0L127,380.0L120,380.0L114,380.0Z" fill="#789beb"/><path d="M114,368.0L120,368.0L127,368.0L133,368.0L140,368.0L146,368.0L153,368.0L159,368.0L166,368.0L172,368.0L179,368.0L185,368.0L192,368.0L198,368.0L205,367.0L211,365.7L218,364.5L225,363.4L231,362.4L238,361.3L244,360.4L251,359.6L257,358.9L264,358.1L270,357.4L277,356.7L283,356.0L290,355.3L296,354.6L303,354.2L309,354.0L316,353.9L322,353.7L329,353.5L336,353.4L342,353.2L349,353.0L355,353.0L362,353.0L368,353.0L375,353.0L381,353.0L388,353.0L394,353.0L401,353.0L407,353.0L414,353.1L420,353.1L427,353.0L434,352.9L440,352.7L447,352.4L453,351.9L460,351.4L466,350.9L473,350.0L479,349.2L486,348.6L492,348.7L499,348.8L505,349.6L512,350.6L518,351.5L525,352.5L532,353.1L538,353.6L545,354.2L551,354.7L558,355.3L564,355.9L571,356.4L577,356.6L584,356.8L590,357.0L597,357.2L603,357.4L610,357.6L616,357.8L623,358.2L629,358.6L636,359.0L636,360.5L629,360.3L623,360.2L616,360.0L610,360.2L603,360.5L597,360.8L590,361.1L584,361.4L577,361.7L571,362.0L564,362.3L558,362.7L551,363.1L545,363.4L538,363.8L532,364.1L525,364.5L518,364.8L512,365.1L505,365.4L499,365.7L492,366.0L486,366.2L479,366.6L473,367.2L466,367.9L460,368.5L453,369.2L447,369.7L440,370.0L434,370.3L427,370.6L420,371.0L414,371.0L407,371.0L401,371.0L394,371.0L388,371.0L381,371.0L375,371.0L368,371.0L362,371.0L355,371.0L349,371.0L342,371.2L336,371.3L329,371.4L322,371.6L316,371.7L309,371.8L303,371.9L296,372.2L290,372.6L283,373.0L277,373.4L270,373.8L264,374.2L257,374.6L251,375.0L244,375.5L238,376.1L231,376.6L225,377.2L218,377.7L211,378.5L205,379.3L198,380.0L192,380.0L185,380.0L179,380.0L172,380.0L166,380.0L159,380.0L153,380.0L146,380.0L140,380.0L133,380.0L127,380.0L120,380.0L114,380.0Z" fill="#71a1eb"/><path d="M114,369.7L120,369.7L127,369.7L133,369.7L140,369.7L146,369.7L153,369.7L159,369.7L166,369.7L172,369.7L179,369.7L185,369.7L192,369.7L198,369.7L205,368.8L211,367.5L218,366.4L225,365.4L231,364.4L238,363.4L244,362.6L251,361.8L257,361.1L264,360.4L270,359.7L277,359.1L283,358.4L290,357.8L296,357.1L303,356.7L309,356.6L316,356.4L322,356.2L329,356.1L336,355.9L342,355.8L349,355.6L355,355.6L362,355.6L368,355.6L375,355.6L381,355.6L388,355.6L394,355.6L401,355.6L407,355.6L414,355.6L420,355.7L427,355.5L434,355.4L440,355.2L447,354.9L453,354.4L460,353.9L466,353.3L473,352.5L479,351.7L486,351.2L492,351.2L499,351.2L505,351.9L512,352.6L518,353.4L525,354.2L532,354.6L538,355.1L545,355.5L551,355.9L558,356.4L564,356.8L571,357.2L577,357.3L584,357.5L590,357.6L597,357.7L603,357.8L610,358.0L616,358.1L623,358.5L629,358.9L636,359.2L636,360.5L629,360.3L623,360.2L616,360.0L610,360.2L603,360.5L597,360.8L590,361.1L584,361.4L577,361.7L571,362.0L564,362.3L558,362.7L551,363.1L545,363.4L538,363.8L532,364.1L525,364.5L518,364.8L512,365.1L505,365.4L499,365.7L492,366.0L486,366.2L479,366.6L473,367.2L466,367.9L460,368.5L453,369.2L447,369.7L440,370.0L434,370.3L427,370.6L420,371.0L414,371.0L407,371.0L401,371.0L394,371.0L388,371.0L381,371.0L375,371.0L368,371.0L362,371.0L355,371.0L349,371.0L342,371.2L336,371.3L329,371.4L322,371.6L316,371.7L309,371.8L303,371.9L296,372.2L290,372.6L283,373.0L277,373.4L270,373.8L264,374.2L257,374.6L251,375.0L244,375.5L238,376.1L231,376.6L225,377.2L218,377.7L211,378.5L205,379.3L198,380.0L192,380.0L185,380.0L179,380.0L172,380.0L166,380.0L159,380.0L153,380.0L146,380.0L140,380.0L133,380.0L127,380.0L120,380.0L114,380.0Z" fill="#6aa8ea"/><path d="M114,371.4L120,371.4L127,371.4L133,371.4L140,371.4L146,371.4L153,371.4L159,371.4L166,371.4L172,371.4L179,371.4L185,371.4L192,371.4L198,371.4L205,370.5L211,369.4L218,368.3L225,367.4L231,366.5L238,365.5L244,364.7L251,364.0L257,363.3L264,362.7L270,362.1L277,361.5L283,360.9L290,360.3L296,359.7L303,359.3L309,359.1L316,358.9L322,358.8L329,358.6L336,358.5L342,358.3L349,358.2L355,358.1L362,358.1L368,358.1L375,358.1L381,358.1L388,358.1L394,358.1L401,358.1L407,358.2L414,358.2L420,358.2L427,358.0L434,357.9L440,357.7L447,357.3L453,356.9L460,356.3L466,355.7L473,354.9L479,354.2L486,353.7L492,353.6L499,353.6L505,354.1L512,354.7L518,355.3L525,355.9L532,356.2L538,356.5L545,356.8L551,357.1L558,357.4L564,357.7L571,358.0L577,358.0L584,358.1L590,358.2L597,358.2L603,358.3L610,358.3L616,358.5L623,358.8L629,359.1L636,359.4L636,360.5L629,360.3L623,360.2L616,360.0L610,360.2L603,360.5L597,360.8L590,361.1L584,361.4L577,361.7L571,362.0L564,362.3L558,362.7L551,363.1L545,363.4L538,363.8L532,364.1L525,364.5L518,364.8L512,365.1L505,365.4L499,365.7L492,366.0L486,366.2L479,366.6L473,367.2L466,367.9L460,368.5L453,369.2L447,369.7L440,370.0L434,370.3L427,370.6L420,371.0L414,371.0L407,371.0L401,371.0L394,371.0L388,371.0L381,371.0L375,371.0L368,371.0L362,371.0L355,371.0L349,371.0L342,371.2L336,371.3L329,371.4L322,371.6L316,371.7L309,371.8L303,371.9L296,372.2L290,372.6L283,373.0L277,373.4L270,373.8L264,374.2L257,374.6L251,375.0L244,375.5L238,376.1L231,376.6L225,377.2L218,377.7L211,378.5L205,379.3L198,380.0L192,380.0L185,380.0L179,380.0L172,380.0L166,380.0L159,380.0L153,380.0L146,380.0L140,380.0L133,380.0L127,380.0L120,380.0L114,380.0Z" fill="#66b9e5"/><path d="M114,373.1L120,373.1L127,373.1L133,373.1L140,373.1L146,373.1L153,373.1L159,373.1L166,373.1L172,373.1L179,373.1L185,373.1L192,373.1L198,373.1L205,372.3L211,371.2L218,370.2L225,369.3L231,368.5L238,367.6L244,366.9L251,366.2L257,365.6L264,365.0L270,364.4L277,363.8L283,363.3L290,362.7L296,362.2L303,361.8L309,361.6L316,361.5L322,361.3L329,361.2L336,361.0L342,360.9L349,360.7L355,360.7L362,360.7L368,360.7L375,360.7L381,360.7L388,360.7L394,360.7L401,360.7L407,360.7L414,360.8L420,360.8L427,360.6L434,360.4L440,360.1L447,359.8L453,359.3L460,358.8L466,358.1L473,357.4L479,356.7L486,356.2L492,356.1L499,356.0L505,356.4L512,356.8L518,357.2L525,357.6L532,357.8L538,358.0L545,358.1L551,358.3L558,358.5L564,358.6L571,358.8L577,358.8L584,358.8L590,358.8L597,358.7L603,358.7L610,358.7L616,358.8L623,359.1L629,359.4L636,359.6L636,360.5L629,360.3L623,360.2L616,360.0L610,360.2L603,360.5L597,360.8L590,361.1L584,361.4L577,361.7L571,362.0L564,362.3L558,362.7L551,363.1L545,363.4L538,363.8L532,364.1L525,364.5L518,364.8L512,365.1L505,365.4L499,365.7L492,366.0L486,366.2L479,366.6L473,367.2L466,367.9L460,368.5L453,369.2L447,369.7L440,370.0L434,370.3L427,370.6L420,371.0L414,371.0L407,371.0L401,371.0L394,371.0L388,371.0L381,371.0L375,371.0L368,371.0L362,371.0L355,371.0L349,371.0L342,371.2L336,371.3L329,371.4L322,371.6L316,371.7L309,371.8L303,371.9L296,372.2L290,372.6L283,373.0L277,373.4L270,373.8L264,374.2L257,374.6L251,375.0L244,375.5L238,376.1L231,376.6L225,377.2L218,377.7L211,378.5L205,379.3L198,380.0L192,380.0L185,380.0L179,380.0L172,380.0L166,380.0L159,380.0L153,380.0L146,380.0L140,380.0L133,380.0L127,380.0L120,380.0L114,380.0Z" fill="#62cbe0"/><path d="M114,374.9L120,374.9L127,374.9L133,374.9L140,374.9L146,374.9L153,374.9L159,374.9L166,374.9L172,374.9L179,374.9L185,374.9L192,374.9L198,374.9L205,374.1L211,373.0L218,372.1L225,371.3L231,370.5L238,369.7L244,369.0L251,368.4L257,367.8L264,367.3L270,366.8L277,366.2L283,365.7L290,365.2L296,364.7L303,364.3L309,364.2L316,364.0L322,363.9L329,363.8L336,363.6L342,363.5L349,363.3L355,363.3L362,363.3L368,363.3L375,363.3L381,363.3L388,363.3L394,363.3L401,363.3L407,363.3L414,363.3L420,363.3L427,363.1L434,362.8L440,362.6L447,362.3L453,361.8L460,361.2L466,360.6L473,359.9L479,359.1L486,358.7L492,358.6L499,358.4L505,358.6L512,358.9L518,359.1L525,359.4L532,359.4L538,359.4L545,359.5L551,359.5L558,359.5L564,359.6L571,359.6L577,359.5L584,359.4L590,359.3L597,359.3L603,359.2L610,359.1L616,359.1L623,359.3L629,359.6L636,359.9L636,360.5L629,360.3L623,360.2L616,360.0L610,360.2L603,360.5L597,360.8L590,361.1L584,361.4L577,361.7L571,362.0L564,362.3L558,362.7L551,363.1L545,363.4L538,363.8L532,364.1L525,364.5L518,364.8L512,365.1L505,365.4L499,365.7L492,366.0L486,366.2L479,366.6L473,367.2L466,367.9L460,368.5L453,369.2L447,369.7L440,370.0L434,370.3L427,370.6L420,371.0L414,371.0L407,371.0L401,371.0L394,371.0L388,371.0L381,371.0L375,371.0L368,371.0L362,371.0L355,371.0L349,371.0L342,371.2L336,371.3L329,371.4L322,371.6L316,371.7L309,371.8L303,371.9L296,372.2L290,372.6L283,373.0L277,373.4L270,373.8L264,374.2L257,374.6L251,375.0L244,375.5L238,376.1L231,376.6L225,377.2L218,377.7L211,378.5L205,379.3L198,380.0L192,380.0L185,380.0L179,380.0L172,380.0L166,380.0L159,380.0L153,380.0L146,380.0L140,380.0L133,380.0L127,380.0L120,380.0L114,380.0Z" fill="#a7dcdb"/><path d="M114,376.6L120,376.6L127,376.6L133,376.6L140,376.6L146,376.6L153,376.6L159,376.6L166,376.6L172,376.6L179,376.6L185,376.6L192,376.6L198,376.6L205,375.8L211,374.8L218,374.0L225,373.3L231,372.6L238,371.9L244,371.2L251,370.6L257,370.1L264,369.6L270,369.1L277,368.6L283,368.1L290,367.7L296,367.2L303,366.9L309,366.7L316,366.6L322,366.4L329,366.3L336,366.2L342,366.0L349,365.9L355,365.9L362,365.9L368,365.9L375,365.9L381,365.9L388,365.9L394,365.9L401,365.9L407,365.9L414,365.9L420,365.9L427,365.6L434,365.3L440,365.1L447,364.7L453,364.3L460,363.6L466,363.0L473,362.3L479,361.6L486,361.2L492,361.0L499,360.8L505,360.9L512,360.9L518,361.0L525,361.1L532,361.0L538,360.9L545,360.8L551,360.7L558,360.6L564,360.5L571,360.4L577,360.2L584,360.1L590,359.9L597,359.8L603,359.6L610,359.5L616,359.4L623,359.6L629,359.8L636,360.1L636,360.5L629,360.3L623,360.2L616,360.0L610,360.2L603,360.5L597,360.8L590,361.1L584,361.4L577,361.7L571,362.0L564,362.3L558,362.7L551,363.1L545,363.4L538,363.8L532,364.1L525,364.5L518,364.8L512,365.1L505,365.4L499,365.7L492,366.0L486,366.2L479,366.6L473,367.2L466,367.9L460,368.5L453,369.2L447,369.7L440,370.0L434,370.3L427,370.6L420,371.0L414,371.0L407,371.0L401,371.0L394,371.0L388,371.0L381,371.0L375,371.0L368,371.0L362,371.0L355,371.0L349,371.0L342,371.2L336,371.3L329,371.4L322,371.6L316,371.7L309,371.8L303,371.9L296,372.2L290,372.6L283,373.0L277,373.4L270,373.8L264,374.2L257,374.6L251,375.0L244,375.5L238,376.1L231,376.6L225,377.2L218,377.7L211,378.5L205,379.3L198,380.0L192,380.0L185,380.0L179,380.0L172,380.0L166,380.0L159,380.0L153,380.0L146,380.0L140,380.0L133,380.0L127,380.0L120,380.0L114,380.0Z" fill="#dee8d4"/><path d="M114,378.3L120,378.3L127,378.3L133,378.3L140,378.3L146,378.3L153,378.3L159,378.3L166,378.3L172,378.3L179,378.3L185,378.3L192,378.3L198,378.3L205,377.6L211,376.6L218,375.9L225,375.2L231,374.6L238,374.0L244,373.3L251,372.8L257,372.3L264,371.9L270,371.4L277,371.0L283,370.6L290,370.1L296,369.7L303,369.4L309,369.3L316,369.1L322,369.0L329,368.9L336,368.7L342,368.6L349,368.5L355,368.4L362,368.4L368,368.4L375,368.4L381,368.4L388,368.4L394,368.4L401,368.4L407,368.4L414,368.4L420,368.4L427,368.1L434,367.8L440,367.5L447,367.2L453,366.7L460,366.1L466,365.4L473,364.8L479,364.1L486,363.7L492,363.5L499,363.3L505,363.1L512,363.0L518,362.9L525,362.8L532,362.6L538,362.3L545,362.1L551,361.9L558,361.6L564,361.4L571,361.2L577,361.0L584,360.7L590,360.5L597,360.3L603,360.1L610,359.9L616,359.7L623,359.9L629,360.1L636,360.3L636,360.5L629,360.3L623,360.2L616,360.0L610,360.2L603,360.5L597,360.8L590,361.1L584,361.4L577,361.7L571,362.0L564,362.3L558,362.7L551,363.1L545,363.4L538,363.8L532,364.1L525,364.5L518,364.8L512,365.1L505,365.4L499,365.7L492,366.0L486,366.2L479,366.6L473,367.2L466,367.9L460,368.5L453,369.2L447,369.7L440,370.0L434,370.3L427,370.6L420,371.0L414,371.0L407,371.0L401,371.0L394,371.0L388,371.0L381,371.0L375,371.0L368,371.0L362,371.0L355,371.0L349,371.0L342,371.2L336,371.3L329,371.4L322,371.6L316,371.7L309,371.8L303,371.9L296,372.2L290,372.6L283,373.0L277,373.4L270,373.8L264,374.2L257,374.6L251,375.0L244,375.5L238,376.1L231,376.6L225,377.2L218,377.7L211,378.5L205,379.3L198,380.0L192,380.0L185,380.0L179,380.0L172,380.0L166,380.0L159,380.0L153,380.0L146,380.0L140,380.0L133,380.0L127,380.0L120,380.0L114,380.0Z" fill="#d6dcc8"/>
<path d="M114,356.0L120,353.6L127,351.2L133,348.8L140,346.1L146,343.8L153,342.5L159,341.2L166,341.0L172,341.0L179,340.2L185,338.9L192,336.5L198,334.1L205,332.5L211,331.1L218,329.7L225,328.3L231,326.9L238,325.5L244,324.6L251,323.8L257,323.1L264,322.4L270,321.7L277,321.0L283,320.3L290,319.6L296,318.9L303,318.4L309,318.2L316,318.0L322,317.8L329,317.6L336,317.4L342,317.2L349,317.0L355,316.9L362,316.9L368,316.8L375,316.7L381,316.6L388,316.5L394,316.5L401,316.5L407,317.0L414,317.5L420,318.0L427,318.5L434,319.3L440,320.1L447,320.9L453,321.9L460,323.0L466,324.2L473,325.4L479,326.9L486,328.5L492,330.1L499,331.7L505,333.8L512,336.0L518,338.3L525,340.5L532,342.0L538,343.5L545,345.0L551,346.4L558,347.9L564,349.4L571,350.8L577,351.5L584,352.2L590,352.9L597,353.6L603,354.3L610,355.0L616,355.6L623,356.3L629,356.9L636,357.5L636,357.5L629,356.9L623,356.3L616,355.6L610,355.0L603,354.3L597,353.6L590,352.9L584,352.2L577,351.5L571,350.8L564,349.4L558,347.9L551,346.4L545,345.0L538,343.5L532,342.0L525,340.5L518,338.3L512,336.0L505,333.8L499,331.9L492,331.5L486,331.1L479,331.9L473,332.8L466,333.8L460,334.3L453,334.7L447,335.1L440,335.5L434,335.4L427,335.3L420,335.3L414,335.2L407,335.1L401,335.0L394,335.0L388,335.0L381,335.0L375,335.0L368,335.0L362,335.0L355,335.0L349,335.0L342,335.2L336,335.4L329,335.6L322,335.8L316,336.0L309,336.2L303,336.4L296,337.0L290,338.0L283,339.0L277,340.0L270,341.0L264,342.0L257,343.1L251,344.2L244,345.3L238,346.6L231,348.1L225,349.7L218,351.3L211,352.9L205,354.7L198,356.0L192,356.0L185,356.0L179,356.0L172,356.0L166,356.0L159,356.0L153,356.0L146,356.0L140,356.0L133,356.0L127,356.0L120,356.0L114,356.0Z" fill="#dde6e2"/><path d="M114,356.0L120,354.0L127,352.0L133,350.0L140,347.8L146,345.8L153,344.7L159,343.6L166,343.5L172,343.5L179,342.9L185,341.7L192,339.7L198,337.7L205,336.2L211,334.7L218,333.3L225,331.9L231,330.4L238,329.0L244,328.0L251,327.2L257,326.5L264,325.7L270,324.9L277,324.2L283,323.4L290,322.7L296,321.9L303,321.4L309,321.2L316,321.0L322,320.8L329,320.6L336,320.4L342,320.2L349,320.0L355,319.9L362,319.9L368,319.8L375,319.8L381,319.7L388,319.6L394,319.6L401,319.6L407,320.0L414,320.4L420,320.8L427,321.3L434,322.0L440,322.7L447,323.3L453,324.0L460,324.9L466,325.8L473,326.6L479,327.7L486,328.9L492,330.3L499,331.7L505,333.8L512,336.0L518,338.3L525,340.5L532,342.0L538,343.5L545,345.0L551,346.4L558,347.9L564,349.4L571,350.8L577,351.5L584,352.2L590,352.9L597,353.6L603,354.3L610,355.0L616,355.6L623,356.3L629,356.9L636,357.5L636,357.5L629,356.9L623,356.3L616,355.6L610,355.0L603,354.3L597,353.6L590,352.9L584,352.2L577,351.5L571,350.8L564,349.4L558,347.9L551,346.4L545,345.0L538,343.5L532,342.0L525,340.5L518,338.3L512,336.0L505,333.8L499,331.9L492,331.5L486,331.1L479,331.9L473,332.8L466,333.8L460,334.3L453,334.7L447,335.1L440,335.5L434,335.4L427,335.3L420,335.3L414,335.2L407,335.1L401,335.0L394,335.0L388,335.0L381,335.0L375,335.0L368,335.0L362,335.0L355,335.0L349,335.0L342,335.2L336,335.4L329,335.6L322,335.8L316,336.0L309,336.2L303,336.4L296,337.0L290,338.0L283,339.0L277,340.0L270,341.0L264,342.0L257,343.1L251,344.2L244,345.3L238,346.6L231,348.1L225,349.7L218,351.3L211,352.9L205,354.7L198,356.0L192,356.0L185,356.0L179,356.0L172,356.0L166,356.0L159,356.0L153,356.0L146,356.0L140,356.0L133,356.0L127,356.0L120,356.0L114,356.0Z" fill="#d2dddb"/><path d="M114,356.0L120,354.4L127,352.8L133,351.2L140,349.4L146,347.8L153,347.0L159,346.1L166,346.0L172,346.0L179,345.5L185,344.6L192,343.0L198,341.4L205,339.9L211,338.4L218,336.9L225,335.4L231,334.0L238,332.5L244,331.5L251,330.6L257,329.8L264,329.0L270,328.1L277,327.3L283,326.5L290,325.7L296,324.9L303,324.4L309,324.2L316,324.0L322,323.8L329,323.6L336,323.4L342,323.2L349,323.0L355,323.0L362,322.9L368,322.9L375,322.8L381,322.7L388,322.7L394,322.6L401,322.6L407,323.0L414,323.4L420,323.7L427,324.1L434,324.7L440,325.2L447,325.6L453,326.1L460,326.8L466,327.4L473,327.9L479,328.5L486,329.3L492,330.6L499,331.8L505,333.8L512,336.0L518,338.3L525,340.5L532,342.0L538,343.5L545,345.0L551,346.4L558,347.9L564,349.4L571,350.8L577,351.5L584,352.2L590,352.9L597,353.6L603,354.3L610,355.0L616,355.6L623,356.3L629,356.9L636,357.5L636,357.5L629,356.9L623,356.3L616,355.6L610,355.0L603,354.3L597,353.6L590,352.9L584,352.2L577,351.5L571,350.8L564,349.4L558,347.9L551,346.4L545,345.0L538,343.5L532,342.0L525,340.5L518,338.3L512,336.0L505,333.8L499,331.9L492,331.5L486,331.1L479,331.9L473,332.8L466,333.8L460,334.3L453,334.7L447,335.1L440,335.5L434,335.4L427,335.3L420,335.3L414,335.2L407,335.1L401,335.0L394,335.0L388,335.0L381,335.0L375,335.0L368,335.0L362,335.0L355,335.0L349,335.0L342,335.2L336,335.4L329,335.6L322,335.8L316,336.0L309,336.2L303,336.4L296,337.0L290,338.0L283,339.0L277,340.0L270,341.0L264,342.0L257,343.1L251,344.2L244,345.3L238,346.6L231,348.1L225,349.7L218,351.3L211,352.9L205,354.7L198,356.0L192,356.0L185,356.0L179,356.0L172,356.0L166,356.0L159,356.0L153,356.0L146,356.0L140,356.0L133,356.0L127,356.0L120,356.0L114,356.0Z" fill="#cad6d5"/><path d="M114,356.0L120,354.8L127,353.6L133,352.4L140,351.1L146,349.9L153,349.2L159,348.6L166,348.5L172,348.5L179,348.1L185,347.4L192,346.2L198,345.0L205,343.6L211,342.0L218,340.5L225,339.0L231,337.5L238,336.0L244,334.9L251,334.0L257,333.1L264,332.2L270,331.3L277,330.5L283,329.7L290,328.8L296,328.0L303,327.4L309,327.2L316,327.0L322,326.8L329,326.6L336,326.4L342,326.2L349,326.0L355,326.0L362,325.9L368,325.9L375,325.9L381,325.8L388,325.8L394,325.7L401,325.7L407,326.0L414,326.3L420,326.6L427,326.9L434,327.4L440,327.8L447,328.0L453,328.3L460,328.7L466,329.0L473,329.1L479,329.4L486,329.8L492,330.8L499,331.8L505,333.8L512,336.0L518,338.3L525,340.5L532,342.0L538,343.5L545,345.0L551,346.4L558,347.9L564,349.4L571,350.8L577,351.5L584,352.2L590,352.9L597,353.6L603,354.3L610,355.0L616,355.6L623,356.3L629,356.9L636,357.5L636,357.5L629,356.9L623,356.3L616,355.6L610,355.0L603,354.3L597,353.6L590,352.9L584,352.2L577,351.5L571,350.8L564,349.4L558,347.9L551,346.4L545,345.0L538,343.5L532,342.0L525,340.5L518,338.3L512,336.0L505,333.8L499,331.9L492,331.5L486,331.1L479,331.9L473,332.8L466,333.8L460,334.3L453,334.7L447,335.1L440,335.5L434,335.4L427,335.3L420,335.3L414,335.2L407,335.1L401,335.0L394,335.0L388,335.0L381,335.0L375,335.0L368,335.0L362,335.0L355,335.0L349,335.0L342,335.2L336,335.4L329,335.6L322,335.8L316,336.0L309,336.2L303,336.4L296,337.0L290,338.0L283,339.0L277,340.0L270,341.0L264,342.0L257,343.1L251,344.2L244,345.3L238,346.6L231,348.1L225,349.7L218,351.3L211,352.9L205,354.7L198,356.0L192,356.0L185,356.0L179,356.0L172,356.0L166,356.0L159,356.0L153,356.0L146,356.0L140,356.0L133,356.0L127,356.0L120,356.0L114,356.0Z" fill="#c3d1d1"/><path d="M114,356.0L120,355.2L127,354.4L133,353.6L140,352.7L146,351.9L153,351.5L159,351.1L166,351.0L172,351.0L179,350.7L185,350.3L192,349.5L198,348.7L205,347.3L211,345.6L218,344.1L225,342.6L231,341.1L238,339.6L244,338.4L251,337.4L257,336.5L264,335.5L270,334.5L277,333.7L283,332.8L290,331.9L296,331.0L303,330.4L309,330.2L316,330.0L322,329.8L329,329.6L336,329.4L342,329.2L349,329.0L355,329.0L362,329.0L368,328.9L375,328.9L381,328.9L388,328.8L394,328.8L401,328.8L407,329.0L414,329.3L420,329.5L427,329.7L434,330.1L440,330.4L447,330.4L453,330.4L460,330.6L466,330.6L473,330.4L479,330.2L486,330.2L492,331.0L499,331.9L505,333.8L512,336.0L518,338.3L525,340.5L532,342.0L538,343.5L545,345.0L551,346.4L558,347.9L564,349.4L571,350.8L577,351.5L584,352.2L590,352.9L597,353.6L603,354.3L610,355.0L616,355.6L623,356.3L629,356.9L636,357.5L636,357.5L629,356.9L623,356.3L616,355.6L610,355.0L603,354.3L597,353.6L590,352.9L584,352.2L577,351.5L571,350.8L564,349.4L558,347.9L551,346.4L545,345.0L538,343.5L532,342.0L525,340.5L518,338.3L512,336.0L505,333.8L499,331.9L492,331.5L486,331.1L479,331.9L473,332.8L466,333.8L460,334.3L453,334.7L447,335.1L440,335.5L434,335.4L427,335.3L420,335.3L414,335.2L407,335.1L401,335.0L394,335.0L388,335.0L381,335.0L375,335.0L368,335.0L362,335.0L355,335.0L349,335.0L342,335.2L336,335.4L329,335.6L322,335.8L316,336.0L309,336.2L303,336.4L296,337.0L290,338.0L283,339.0L277,340.0L270,341.0L264,342.0L257,343.1L251,344.2L244,345.3L238,346.6L231,348.1L225,349.7L218,351.3L211,352.9L205,354.7L198,356.0L192,356.0L185,356.0L179,356.0L172,356.0L166,356.0L159,356.0L153,356.0L146,356.0L140,356.0L133,356.0L127,356.0L120,356.0L114,356.0Z" fill="#bdcccd"/><path d="M114,356.0L120,355.6L127,355.2L133,354.8L140,354.4L146,354.0L153,353.7L159,353.5L166,353.5L172,353.5L179,353.4L185,353.1L192,352.7L198,352.3L205,351.0L211,349.3L218,347.7L225,346.1L231,344.6L238,343.1L244,341.9L251,340.8L257,339.8L264,338.8L270,337.8L277,336.8L283,335.9L290,335.0L296,334.0L303,333.4L309,333.2L316,333.0L322,332.8L329,332.6L336,332.4L342,332.2L349,332.0L355,332.0L362,332.0L368,332.0L375,332.0L381,331.9L388,331.9L394,331.9L401,331.9L407,332.1L414,332.2L420,332.4L427,332.5L434,332.7L440,332.9L447,332.7L453,332.6L460,332.4L466,332.2L473,331.6L479,331.0L486,330.6L492,331.3L499,331.9L505,333.8L512,336.0L518,338.3L525,340.5L532,342.0L538,343.5L545,345.0L551,346.4L558,347.9L564,349.4L571,350.8L577,351.5L584,352.2L590,352.9L597,353.6L603,354.3L610,355.0L616,355.6L623,356.3L629,356.9L636,357.5L636,357.5L629,356.9L623,356.3L616,355.6L610,355.0L603,354.3L597,353.6L590,352.9L584,352.2L577,351.5L571,350.8L564,349.4L558,347.9L551,346.4L545,345.0L538,343.5L532,342.0L525,340.5L518,338.3L512,336.0L505,333.8L499,331.9L492,331.5L486,331.1L479,331.9L473,332.8L466,333.8L460,334.3L453,334.7L447,335.1L440,335.5L434,335.4L427,335.3L420,335.3L414,335.2L407,335.1L401,335.0L394,335.0L388,335.0L381,335.0L375,335.0L368,335.0L362,335.0L355,335.0L349,335.0L342,335.2L336,335.4L329,335.6L322,335.8L316,336.0L309,336.2L303,336.4L296,337.0L290,338.0L283,339.0L277,340.0L270,341.0L264,342.0L257,343.1L251,344.2L244,345.3L238,346.6L231,348.1L225,349.7L218,351.3L211,352.9L205,354.7L198,356.0L192,356.0L185,356.0L179,356.0L172,356.0L166,356.0L159,356.0L153,356.0L146,356.0L140,356.0L133,356.0L127,356.0L120,356.0L114,356.0Z" fill="#b7c7ca"/>
<path d="M114,356.0L120,353.6L127,351.2L133,348.8L140,346.1L146,343.8L153,342.5L159,341.2L166,341.0L172,341.0L179,340.2L185,338.9L192,336.5L198,334.1L205,332.5L211,331.1L218,329.7L225,328.3L231,326.9L238,325.5L244,324.6L251,323.8L257,323.1L264,322.4L270,321.7L277,321.0L283,320.3L290,319.6L296,318.9L303,318.4L309,318.2L316,318.0L322,317.8L329,317.6L336,317.4L342,317.2L349,317.0L355,316.9L362,316.9L368,316.8L375,316.7L381,316.6L388,316.5L394,316.5L401,316.5L407,317.0L414,317.5L420,318.0L427,318.5L434,319.3L440,320.1L447,320.9L453,321.9L460,323.0L466,324.2L473,325.4L479,326.9L486,328.5L492,330.1L499,331.7L505,333.8L512,336.0L518,338.3L525,340.5L532,342.0L538,343.5L545,345.0L551,346.4L558,347.9L564,349.4L571,350.8L577,351.5L584,352.2L590,352.9L597,353.6L603,354.3L610,355.0L616,355.6L623,356.3L629,356.9L636,357.5L636,357.5L629,356.9L623,356.3L616,355.6L610,355.0L603,354.3L597,353.6L590,352.9L584,352.2L577,351.5L571,350.8L564,349.4L558,347.9L551,346.4L545,345.0L538,343.5L532,342.0L525,340.5L518,338.3L512,336.0L505,333.8L499,331.9L492,331.5L486,331.1L479,331.9L473,332.8L466,333.8L460,334.3L453,334.7L447,335.1L440,335.5L434,335.4L427,335.3L420,335.3L414,335.2L407,335.1L401,335.0L394,335.0L388,335.0L381,335.0L375,335.0L368,335.0L362,335.0L355,335.0L349,335.0L342,335.2L336,335.4L329,335.6L322,335.8L316,336.0L309,336.2L303,336.4L296,337.0L290,338.0L283,339.0L277,340.0L270,341.0L264,342.0L257,343.1L251,344.2L244,345.3L238,346.6L231,348.1L225,349.7L218,351.3L211,352.9L205,354.7L198,356.0L192,356.0L185,356.0L179,356.0L172,356.0L166,356.0L159,356.0L153,356.0L146,356.0L140,356.0L133,356.0L127,356.0L120,356.0L114,356.0Z" fill="url(#pscale)"/>
<path d="M236.2,353.1 l2.6,0 l2.9,14.3 l-2.6,0z" fill="#5a70e2" opacity="0.13"/><path d="M239.6,353.6 l1.3,0 l3.1,15.7 l-1.3,0z" fill="#fff" opacity="0.09"/><path d="M228.2,355.6 L235.2,355.6 L234.7,364.5 L230.2,364.5 Z" fill="#4d8a8c" opacity="0.15"/><path d="M230.2,364.5 L234.7,364.5 L233.4,375.7 Z" fill="#3f9480" opacity="0.15"/><path d="M239.4,366.8 l3.2,4.9 l-3.2,5.7 l-3.2,-5.7 z" fill="#f6f29a" opacity="0.17"/><path d="M249.2,350.6 l2.6,0 l3.0,15.1 l-2.6,0z" fill="#5a70e2" opacity="0.42"/><path d="M252.6,351.2 l1.3,0 l3.3,16.6 l-1.3,0z" fill="#fff" opacity="0.29"/><path d="M241.2,353.3 L248.2,353.3 L247.7,362.7 L243.2,362.7 Z" fill="#4d8a8c" opacity="0.46"/><path d="M243.2,362.7 L247.7,362.7 L246.4,374.5 Z" fill="#3f9480" opacity="0.46"/><path d="M252.4,365.1 l3.2,5.1 l-3.2,6.1 l-3.2,-6.1 z" fill="#f6f29a" opacity="0.53"/><path d="M262.2,348.7 l2.6,0 l3.2,15.8 l-2.6,0z" fill="#5a70e2" opacity="0.71"/><path d="M265.6,349.3 l1.3,0 l3.5,17.3 l-1.3,0z" fill="#fff" opacity="0.49"/><path d="M254.2,351.5 L261.2,351.5 L260.7,361.3 L256.2,361.3 Z" fill="#4d8a8c" opacity="0.78"/><path d="M256.2,361.3 L260.7,361.3 L259.4,373.6 Z" fill="#3f9480" opacity="0.78"/><path d="M265.4,363.8 l3.2,5.4 l-3.2,6.3 l-3.2,-6.3 z" fill="#f6f29a" opacity="0.89"/><path d="M275.2,346.8 l2.6,0 l3.3,16.4 l-2.6,0z" fill="#5a70e2" opacity="0.80"/><path d="M278.6,347.4 l1.3,0 l3.6,18.1 l-1.3,0z" fill="#fff" opacity="0.55"/><path d="M267.2,349.7 L274.2,349.7 L273.7,359.9 L269.2,359.9 Z" fill="#4d8a8c" opacity="0.88"/><path d="M269.2,359.9 L273.7,359.9 L272.4,372.8 Z" fill="#3f9480" opacity="0.88"/><path d="M278.4,362.6 l3.2,5.6 l-3.2,6.6 l-3.2,-6.6 z" fill="#f6f29a" opacity="1.00"/><path d="M288.2,345.0 l2.6,0 l3.4,17.0 l-2.6,0z" fill="#5a70e2" opacity="0.80"/><path d="M291.6,345.7 l1.3,0 l3.7,18.7 l-1.3,0z" fill="#fff" opacity="0.55"/><path d="M280.2,348.1 L287.2,348.1 L286.7,358.7 L282.2,358.7 Z" fill="#4d8a8c" opacity="0.88"/><path d="M282.2,358.7 L286.7,358.7 L285.4,371.9 Z" fill="#3f9480" opacity="0.88"/><path d="M291.4,361.4 l3.2,5.8 l-3.2,6.8 l-3.2,-6.8 z" fill="#f6f29a" opacity="1.00"/><path d="M301.2,343.3 l2.6,0 l3.5,17.6 l-2.6,0z" fill="#5a70e2" opacity="0.80"/><path d="M304.6,344.0 l1.3,0 l3.9,19.4 l-1.3,0z" fill="#fff" opacity="0.55"/><path d="M293.2,346.5 L300.2,346.5 L299.7,357.4 L295.2,357.4 Z" fill="#4d8a8c" opacity="0.88"/><path d="M295.2,357.4 L299.7,357.4 L298.4,371.1 Z" fill="#3f9480" opacity="0.88"/><path d="M304.4,360.2 l3.2,6.0 l-3.2,7.0 l-3.2,-7.0 z" fill="#f6f29a" opacity="1.00"/><path d="M314.2,342.6 l2.6,0 l3.6,17.8 l-2.6,0z" fill="#5a70e2" opacity="0.80"/><path d="M317.6,343.3 l1.3,0 l3.9,19.6 l-1.3,0z" fill="#fff" opacity="0.55"/><path d="M306.2,345.8 L313.2,345.8 L312.7,356.8 L308.2,356.8 Z" fill="#4d8a8c" opacity="0.88"/><path d="M308.2,356.8 L312.7,356.8 L311.4,370.7 Z" fill="#3f9480" opacity="0.88"/><path d="M317.4,359.7 l3.2,6.1 l-3.2,7.1 l-3.2,-7.1 z" fill="#f6f29a" opacity="1.00"/><path d="M327.2,342.2 l2.6,0 l3.6,17.9 l-2.6,0z" fill="#5a70e2" opacity="0.80"/><path d="M330.6,343.0 l1.3,0 l3.9,19.7 l-1.3,0z" fill="#fff" opacity="0.55"/><path d="M319.2,345.5 L326.2,345.5 L325.7,356.5 L321.2,356.5 Z" fill="#4d8a8c" opacity="0.88"/><path d="M321.2,356.5 L325.7,356.5 L324.4,370.5 Z" fill="#3f9480" opacity="0.88"/><path d="M330.4,359.4 l3.2,6.1 l-3.2,7.1 l-3.2,-7.1 z" fill="#f6f29a" opacity="1.00"/><path d="M340.2,341.9 l2.6,0 l3.6,17.9 l-2.6,0z" fill="#5a70e2" opacity="0.80"/><path d="M343.6,342.6 l1.3,0 l3.9,19.7 l-1.3,0z" fill="#fff" opacity="0.55"/><path d="M332.2,345.1 L339.2,345.1 L338.7,356.2 L334.2,356.2 Z" fill="#4d8a8c" opacity="0.88"/><path d="M334.2,356.2 L338.7,356.2 L337.4,370.2 Z" fill="#3f9480" opacity="0.88"/><path d="M343.4,359.1 l3.2,6.1 l-3.2,7.2 l-3.2,-7.2 z" fill="#f6f29a" opacity="1.00"/><path d="M353.2,341.5 l2.6,0 l3.6,18.0 l-2.6,0z" fill="#5a70e2" opacity="0.80"/><path d="M356.6,342.2 l1.3,0 l4.0,19.8 l-1.3,0z" fill="#fff" opacity="0.55"/><path d="M345.2,344.7 L352.2,344.7 L351.7,355.9 L347.2,355.9 Z" fill="#4d8a8c" opacity="0.88"/><path d="M347.2,355.9 L351.7,355.9 L350.4,369.9 Z" fill="#3f9480" opacity="0.88"/><path d="M356.4,358.8 l3.2,6.1 l-3.2,7.2 l-3.2,-7.2 z" fill="#f6f29a" opacity="1.00"/><path d="M366.2,341.5 l2.6,0 l3.6,18.0 l-2.6,0z" fill="#5a70e2" opacity="0.80"/><path d="M369.6,342.2 l1.3,0 l4.0,19.8 l-1.3,0z" fill="#fff" opacity="0.55"/><path d="M358.2,344.7 L365.2,344.7 L364.7,355.9 L360.2,355.9 Z" fill="#4d8a8c" opacity="0.88"/><path d="M360.2,355.9 L364.7,355.9 L363.4,369.9 Z" fill="#3f9480" opacity="0.88"/><path d="M369.4,358.8 l3.2,6.1 l-3.2,7.2 l-3.2,-7.2 z" fill="#f6f29a" opacity="1.00"/><path d="M379.2,341.5 l2.6,0 l3.6,18.0 l-2.6,0z" fill="#5a70e2" opacity="0.80"/><path d="M382.6,342.2 l1.3,0 l4.0,19.8 l-1.3,0z" fill="#fff" opacity="0.55"/><path d="M371.2,344.7 L378.2,344.7 L377.7,355.9 L373.2,355.9 Z" fill="#4d8a8c" opacity="0.88"/><path d="M373.2,355.9 L377.7,355.9 L376.4,369.9 Z" fill="#3f9480" opacity="0.88"/><path d="M382.4,358.8 l3.2,6.1 l-3.2,7.2 l-3.2,-7.2 z" fill="#f6f29a" opacity="1.00"/><path d="M392.2,341.5 l2.6,0 l3.6,18.0 l-2.6,0z" fill="#5a70e2" opacity="0.80"/><path d="M395.6,342.2 l1.3,0 l4.0,19.8 l-1.3,0z" fill="#fff" opacity="0.55"/><path d="M384.2,344.7 L391.2,344.7 L390.7,355.9 L386.2,355.9 Z" fill="#4d8a8c" opacity="0.88"/><path d="M386.2,355.9 L390.7,355.9 L389.4,369.9 Z" fill="#3f9480" opacity="0.88"/><path d="M395.4,358.8 l3.2,6.1 l-3.2,7.2 l-3.2,-7.2 z" fill="#f6f29a" opacity="1.00"/><path d="M405.2,341.5 l2.6,0 l3.6,18.0 l-2.6,0z" fill="#5a70e2" opacity="0.80"/><path d="M408.6,342.2 l1.3,0 l4.0,19.8 l-1.3,0z" fill="#fff" opacity="0.55"/><path d="M397.2,344.7 L404.2,344.7 L403.7,355.9 L399.2,355.9 Z" fill="#4d8a8c" opacity="0.88"/><path d="M399.2,355.9 L403.7,355.9 L402.4,369.9 Z" fill="#3f9480" opacity="0.88"/><path d="M408.4,358.8 l3.2,6.1 l-3.2,7.2 l-3.2,-7.2 z" fill="#f6f29a" opacity="1.00"/><path d="M418.2,341.6 l2.6,0 l3.6,17.9 l-2.6,0z" fill="#5a70e2" opacity="0.80"/><path d="M421.6,342.3 l1.3,0 l3.9,19.7 l-1.3,0z" fill="#fff" opacity="0.55"/><path d="M410.2,344.8 L417.2,344.8 L416.7,356.0 L412.2,356.0 Z" fill="#4d8a8c" opacity="0.88"/><path d="M412.2,356.0 L416.7,356.0 L415.4,369.9 Z" fill="#3f9480" opacity="0.88"/><path d="M421.4,358.8 l3.2,6.1 l-3.2,7.2 l-3.2,-7.2 z" fill="#f6f29a" opacity="1.00"/><path d="M431.2,341.7 l2.6,0 l3.5,17.7 l-2.6,0z" fill="#5a70e2" opacity="0.80"/><path d="M434.6,342.4 l1.3,0 l3.9,19.4 l-1.3,0z" fill="#fff" opacity="0.55"/><path d="M423.2,344.9 L430.2,344.9 L429.7,355.8 L425.2,355.8 Z" fill="#4d8a8c" opacity="0.88"/><path d="M425.2,355.8 L429.7,355.8 L428.4,369.6 Z" fill="#3f9480" opacity="0.88"/><path d="M434.4,358.6 l3.2,6.0 l-3.2,7.1 l-3.2,-7.1 z" fill="#f6f29a" opacity="1.00"/><path d="M433.5,335.5 l13,0 l0,24.8 l-13,0z" fill="#2e9db0" opacity="0.07"/><path d="M444.2,341.7 l2.6,0 l3.5,17.2 l-2.6,0z" fill="#5675e0" opacity="0.80"/><path d="M447.6,342.4 l1.3,0 l3.8,19.0 l-1.3,0z" fill="#fff" opacity="0.55"/><path d="M436.2,344.8 L443.2,344.8 L442.7,355.5 L438.2,355.5 Z" fill="#49888b" opacity="0.88"/><path d="M438.2,355.5 L442.7,355.5 L441.4,369.0 Z" fill="#3d957c" opacity="0.88"/><path d="M447.4,358.3 l3.2,5.9 l-3.2,6.9 l-3.2,-6.9 z" fill="#f5f191" opacity="1.00"/><path d="M446.5,334.7 l13,0 l0,24.8 l-13,0z" fill="#2e9db0" opacity="0.16"/><path d="M457.2,340.9 l2.6,0 l3.4,17.2 l-2.6,0z" fill="#507bdd" opacity="0.80"/><path d="M460.6,341.6 l1.3,0 l3.8,19.0 l-1.3,0z" fill="#fff" opacity="0.55"/><path d="M449.2,344.0 L456.2,344.0 L455.7,354.7 L451.2,354.7 Z" fill="#43848b" opacity="0.88"/><path d="M451.2,354.7 L455.7,354.7 L454.4,368.2 Z" fill="#3b9578" opacity="0.88"/><path d="M460.4,357.5 l3.2,5.9 l-3.2,6.9 l-3.2,-6.9 z" fill="#f4f086" opacity="1.00"/><path d="M459.5,333.9 l13,0 l0,24.5 l-13,0z" fill="#2e9db0" opacity="0.25"/><path d="M470.2,340.0 l2.6,0 l3.4,17.0 l-2.6,0z" fill="#4a82db" opacity="0.80"/><path d="M473.6,340.7 l1.3,0 l3.7,18.7 l-1.3,0z" fill="#fff" opacity="0.55"/><path d="M462.2,343.0 L469.2,343.0 L468.7,353.6 L464.2,353.6 Z" fill="#3e818a" opacity="0.88"/><path d="M464.2,353.6 L468.7,353.6 L467.4,366.9 Z" fill="#389673" opacity="0.88"/><path d="M473.4,356.3 l3.2,5.8 l-3.2,6.8 l-3.2,-6.8 z" fill="#f3ef7b" opacity="1.00"/><path d="M472.5,331.9 l13,0 l0,25.0 l-13,0z" fill="#2e9db0" opacity="0.33"/><path d="M483.2,338.1 l2.6,0 l3.5,17.4 l-2.6,0z" fill="#4588d8" opacity="0.80"/><path d="M486.6,338.8 l1.3,0 l3.8,19.1 l-1.3,0z" fill="#fff" opacity="0.55"/><path d="M475.2,341.3 L482.2,341.3 L481.7,352.0 L477.2,352.0 Z" fill="#397e89" opacity="0.88"/><path d="M477.2,352.0 L481.7,352.0 L480.4,365.6 Z" fill="#36976e" opacity="0.88"/><path d="M486.4,354.8 l3.2,5.9 l-3.2,6.9 l-3.2,-6.9 z" fill="#f2ee70" opacity="1.00"/><path d="M485.5,331.5 l13,0 l0,24.8 l-13,0z" fill="#2e9db0" opacity="0.42"/><path d="M496.2,337.7 l2.6,0 l3.5,17.2 l-2.6,0z" fill="#3f8ed6" opacity="0.80"/><path d="M499.6,338.4 l1.3,0 l3.8,19.0 l-1.3,0z" fill="#fff" opacity="0.55"/><path d="M488.2,340.8 L495.2,340.8 L494.7,351.5 L490.2,351.5 Z" fill="#337b89" opacity="0.88"/><path d="M490.2,351.5 L494.7,351.5 L493.4,364.9 Z" fill="#339769" opacity="0.88"/><path d="M499.4,354.2 l3.2,5.9 l-3.2,6.9 l-3.2,-6.9 z" fill="#f0ec65" opacity="1.00"/><path d="M498.5,333.7 l13,0 l0,22.8 l-13,0z" fill="#2e9db0" opacity="0.51"/><path d="M509.2,339.4 l2.6,0 l3.2,15.8 l-2.6,0z" fill="#3995d3" opacity="0.80"/><path d="M512.6,340.0 l1.3,0 l3.5,17.4 l-1.3,0z" fill="#fff" opacity="0.55"/><path d="M501.2,342.3 L508.2,342.3 L507.7,352.1 L503.2,352.1 Z" fill="#2e7888" opacity="0.88"/><path d="M503.2,352.1 L507.7,352.1 L506.4,364.4 Z" fill="#319865" opacity="0.88"/><path d="M512.4,354.6 l3.2,5.4 l-3.2,6.3 l-3.2,-6.3 z" fill="#efeb5a" opacity="1.00"/><path d="M511.5,338.1 l13,0 l0,19.2 l-13,0z" fill="#2e9db0" opacity="0.60"/><path d="M522.2,342.9 l2.6,0 l2.7,13.3 l-2.6,0z" fill="#349bd0" opacity="0.80"/><path d="M525.6,343.5 l1.3,0 l2.9,14.7 l-1.3,0z" fill="#fff" opacity="0.55"/><path d="M514.2,345.3 L521.2,345.3 L520.7,353.6 L516.2,353.6 Z" fill="#287487" opacity="0.88"/><path d="M516.2,353.6 L520.7,353.6 L519.4,364.0 Z" fill="#2e9960" opacity="0.88"/><path d="M525.4,355.7 l3.2,4.5 l-3.2,5.3 l-3.2,-5.3 z" fill="#eeea4f" opacity="1.00"/><path d="M524.5,341.9 l13,0 l0,16.1 l-13,0z" fill="#2e9db0" opacity="0.69"/><path d="M535.2,345.9 l2.6,0 l2.2,11.2 l-2.6,0z" fill="#2ea2ce" opacity="0.80"/><path d="M538.6,346.3 l1.3,0 l2.5,12.3 l-1.3,0z" fill="#fff" opacity="0.55"/><path d="M527.2,347.9 L534.2,347.9 L533.7,354.8 L529.2,354.8 Z" fill="#237186" opacity="0.88"/><path d="M529.2,354.8 L533.7,354.8 L532.4,363.5 Z" fill="#2c9a5b" opacity="0.88"/><path d="M538.4,356.6 l3.2,3.8 l-3.2,4.5 l-3.2,-4.5 z" fill="#ede944" opacity="1.00"/><path d="M537.5,344.8 l13,0 l0,13.4 l-13,0z" fill="#2e9db0" opacity="0.75"/><path d="M548.2,348.2 l2.6,0 l1.9,9.3 l-2.6,0z" fill="#2aa6cc" opacity="0.80"/><path d="M551.6,348.6 l1.3,0 l2.0,10.2 l-1.3,0z" fill="#fff" opacity="0.55"/><path d="M540.2,349.9 L547.2,349.9 L546.7,355.6 L542.2,355.6 Z" fill="#1f6f86" opacity="0.88"/><path d="M542.2,355.6 L546.7,355.6 L545.4,362.9 Z" fill="#2a9a58" opacity="0.88"/><path d="M551.4,357.1 l3.2,3.2 l-3.2,3.7 l-3.2,-3.7 z" fill="#ece83c" opacity="1.00"/><path d="M550.5,347.8 l13,0 l0,10.8 l-13,0z" fill="#2e9db0" opacity="0.75"/><path d="M561.2,350.5 l2.6,0 l1.5,7.5 l-2.6,0z" fill="#2aa6cc" opacity="0.80"/><path d="M564.6,350.8 l1.3,0 l1.6,8.2 l-1.3,0z" fill="#fff" opacity="0.55"/><path d="M553.2,351.8 L560.2,351.8 L559.7,356.5 L555.2,356.5 Z" fill="#1f6f86" opacity="0.88"/><path d="M555.2,356.5 L559.7,356.5 L558.4,362.3 Z" fill="#2a9a58" opacity="0.88"/><path d="M564.4,357.6 l3.2,2.5 l-3.2,3.0 l-3.2,-3.0 z" fill="#ece83c" opacity="1.00"/><path d="M563.5,350.8 l13,0 l0,8.1 l-13,0z" fill="#2e9db0" opacity="0.75"/><path d="M574.2,352.8 l2.6,0 l1.1,5.6 l-2.6,0z" fill="#2aa6cc" opacity="0.80"/><path d="M577.6,353.0 l1.3,0 l1.2,6.2 l-1.3,0z" fill="#fff" opacity="0.55"/><path d="M566.2,353.8 L573.2,353.8 L572.7,357.3 L568.2,357.3 Z" fill="#1f6f86" opacity="0.88"/><path d="M568.2,357.3 L572.7,357.3 L571.4,361.7 Z" fill="#2a9a58" opacity="0.88"/><path d="M577.4,358.2 l3.2,1.9 l-3.2,2.2 l-3.2,-2.2 z" fill="#ece83c" opacity="1.00"/><path d="M576.5,352.1 l13,0 l0,6.7 l-13,0z" fill="#2e9db0" opacity="0.75"/><path d="M587.2,353.8 l2.6,0 l0.9,4.7 l-2.6,0z" fill="#2aa6cc" opacity="0.80"/><path d="M590.6,354.0 l1.3,0 l1.0,5.1 l-1.3,0z" fill="#fff" opacity="0.55"/><path d="M579.2,354.6 L586.2,354.6 L585.7,357.5 L581.2,357.5 Z" fill="#1f6f86" opacity="0.88"/><path d="M581.2,357.5 L585.7,357.5 L584.4,361.1 Z" fill="#2a9a58" opacity="0.88"/><path d="M590.4,358.3 l3.2,1.6 l-3.2,1.9 l-3.2,-1.9 z" fill="#ece83c" opacity="1.00"/><path d="M589.5,353.5 l13,0 l0,5.3 l-13,0z" fill="#2e9db0" opacity="0.75"/><path d="M600.2,354.8 l2.6,0 l0.7,3.7 l-2.6,0z" fill="#2aa6cc" opacity="0.80"/><path d="M603.6,355.0 l1.3,0 l0.8,4.0 l-1.3,0z" fill="#fff" opacity="0.55"/><path d="M592.2,355.5 L599.2,355.5 L598.7,357.8 L594.2,357.8 Z" fill="#1f6f86" opacity="0.88"/><path d="M594.2,357.8 L598.7,357.8 L597.4,360.6 Z" fill="#2a9a58" opacity="0.88"/><path d="M603.4,358.3 l3.2,1.2 l-3.2,1.5 l-3.2,-1.5 z" fill="#ece83c" opacity="1.00"/><path d="M602.5,354.9 l13,0 l0,3.9 l-13,0z" fill="#2e9db0" opacity="0.75"/><path d="M613.2,355.8 l2.6,0 l0.5,2.7 l-2.6,0z" fill="#2aa6cc" opacity="0.80"/><path d="M616.6,355.9 l1.3,0 l0.6,3.0 l-1.3,0z" fill="#fff" opacity="0.55"/><path d="M605.2,356.3 L612.2,356.3 L611.7,358.0 L607.2,358.0 Z" fill="#1f6f86" opacity="0.88"/><path d="M607.2,358.0 L611.7,358.0 L610.4,360.1 Z" fill="#2a9a58" opacity="0.88"/><path d="M616.4,358.4 l3.2,0.9 l-3.2,1.1 l-3.2,-1.1 z" fill="#ece83c" opacity="1.00"/><path d="M615.5,356.2 l13,0 l0,2.9 l-13,0z" fill="#2e9db0" opacity="0.75"/><path d="M626.2,356.9 l2.6,0 l0.4,2.0 l-2.6,0z" fill="#2aa6cc" opacity="0.80"/><path d="M629.6,357.0 l1.3,0 l0.4,2.2 l-1.3,0z" fill="#fff" opacity="0.55"/><path d="M618.2,357.2 L625.2,357.2 L624.7,358.5 L620.2,358.5 Z" fill="#1f6f86" opacity="0.88"/><path d="M620.2,358.5 L624.7,358.5 L623.4,360.0 Z" fill="#2a9a58" opacity="0.88"/><path d="M629.4,358.8 l3.2,0.7 l-3.2,0.8 l-3.2,-0.8 z" fill="#ece83c" opacity="1.00"/>
<path d="M200,356.0L203,355.2L206,354.4L209,353.6L212,352.8L215,352.0L218,351.3L221,350.6L224,349.8L227,349.1L230,348.4L233,347.7L236,347.0L239,346.2L242,345.7L245,345.2L248,344.7L251,344.2L254,343.7L257,343.2L260,342.7L263,342.2L266,341.7L269,341.2L272,340.7L275,340.2L275,373.5L272,373.7L269,373.9L266,374.0L263,374.2L260,374.4L257,374.6L254,374.8L251,374.9L248,375.2L245,375.4L242,375.7L239,375.9L236,376.2L233,376.5L230,376.7L227,377.0L224,377.2L221,377.5L218,377.7L215,378.0L212,378.4L209,378.8L206,379.2L203,379.6L200,380.0Z" fill="url(#gsilverx)"/>
<g mask="url(#mribs)"><path d="M196,335.0L199,333.9L202,333.1L205,332.4L208,331.8L211,331.2L214,330.5L217,329.9L220,329.2L223,328.6L226,328.0L229,327.3L232,326.7L235,326.1L238,325.4L241,324.9L244,324.6L247,324.2L250,323.9L253,323.6L256,323.3L259,322.9L262,322.6L265,322.3L268,322.0L271,321.6L274,321.3L277,321.0L280,320.7L283,320.3L283,383.2L280,383.3L277,383.4L274,383.5L271,383.7L268,383.8L265,383.9L262,384.1L259,384.2L256,384.3L253,384.4L250,384.6L247,384.7L244,384.8L241,384.9L238,385.1L235,385.3L232,385.6L229,385.8L226,386.0L223,386.2L220,386.4L217,386.7L214,386.9L211,387.1L208,387.3L205,387.5L202,387.8L199,388.0L196,388.2Z" fill="url(#pribs)" opacity="0.9"/></g>
<path d="M114,354.0L120,347.0L127,343.1L133,339.8L140,337.1L146,334.5L153,331.9L159,329.3L166,326.9L172,324.5L179,322.2L185,320.1L192,317.9L198,315.7L205,313.5L211,311.8L218,310.0L225,308.4L231,306.7L238,305.1L244,303.9L251,302.9L257,301.9L264,300.9L270,300.0L277,299.3L283,298.7L290,298.0L296,297.4L303,296.8L309,296.4L316,296.0L322,295.6L329,295.2L336,294.8L342,294.5L349,294.4L355,294.3L362,294.2L368,294.1L375,294.1L381,294.1L388,294.5L394,295.0L401,295.5L407,296.4L414,297.3L420,298.2L427,299.2L434,300.7L440,302.2L447,303.6L453,305.3L460,307.1L466,308.9L473,310.7L479,312.4L486,314.0L492,315.6L499,317.2L505,319.0L512,320.7L518,322.5L525,324.2L532,326.0L538,327.8L545,329.5L551,331.3L558,333.1L564,334.8L571,336.6L577,338.3L584,340.1L590,341.9L597,343.6L603,345.4L610,347.1L616,348.9L623,350.6L629,352.5L636,354.5L636,357.5L629,356.9L623,356.3L616,355.6L610,355.0L603,354.3L597,353.6L590,352.9L584,352.2L577,351.5L571,350.8L564,349.4L558,347.9L551,346.4L545,345.0L538,343.5L532,342.0L525,340.5L518,338.3L512,336.0L505,333.8L499,331.7L492,330.1L486,328.5L479,326.9L473,325.4L466,324.2L460,323.0L453,321.9L447,320.9L440,320.1L434,319.3L427,318.5L420,318.0L414,317.5L407,317.0L401,316.5L394,316.5L388,316.5L381,316.6L375,316.7L368,316.8L362,316.9L355,316.9L349,317.0L342,317.2L336,317.4L329,317.6L322,317.8L316,318.0L309,318.2L303,318.4L296,318.9L290,319.6L283,320.3L277,321.0L270,321.7L264,322.4L257,323.1L251,323.8L244,324.6L238,325.5L231,326.9L225,328.3L218,329.7L211,331.1L205,332.5L198,334.1L192,336.5L185,338.9L179,340.2L172,341.0L166,341.0L159,341.2L153,342.5L146,343.8L140,346.1L133,348.8L127,351.2L120,353.6L114,356.0Z" fill="#528486"/><path d="M114,354.2L120,347.5L127,343.7L133,340.5L140,337.9L146,335.3L153,332.8L159,330.3L166,328.1L172,325.9L179,323.7L185,321.6L192,319.4L198,317.2L205,315.1L211,313.4L218,311.7L225,310.0L231,308.4L238,306.8L244,305.6L251,304.6L257,303.7L264,302.7L270,301.8L277,301.1L283,300.5L290,299.8L296,299.2L303,298.6L309,298.2L316,297.8L322,297.4L329,297.1L336,296.7L342,296.4L349,296.3L355,296.2L362,296.1L368,296.0L375,296.0L381,296.0L388,296.4L394,296.8L401,297.3L407,298.1L414,299.0L420,299.8L427,300.9L434,302.3L440,303.7L447,305.1L453,306.6L460,308.4L466,310.1L473,311.9L479,313.6L486,315.2L492,316.8L499,318.4L505,320.2L512,322.0L518,323.8L525,325.6L532,327.3L538,329.1L545,330.8L551,332.6L558,334.3L564,336.0L571,337.8L577,339.4L584,341.1L590,342.8L597,344.5L603,346.1L610,347.8L616,349.5L623,351.1L629,352.8L636,354.8L636,357.5L629,356.9L623,356.3L616,355.6L610,355.0L603,354.3L597,353.6L590,352.9L584,352.2L577,351.5L571,350.8L564,349.4L558,347.9L551,346.4L545,345.0L538,343.5L532,342.0L525,340.5L518,338.3L512,336.0L505,333.8L499,331.7L492,330.1L486,328.5L479,326.9L473,325.4L466,324.2L460,323.0L453,321.9L447,320.9L440,320.1L434,319.3L427,318.5L420,318.0L414,317.5L407,317.0L401,316.5L394,316.5L388,316.5L381,316.6L375,316.7L368,316.8L362,316.9L355,316.9L349,317.0L342,317.2L336,317.4L329,317.6L322,317.8L316,318.0L309,318.2L303,318.4L296,318.9L290,319.6L283,320.3L277,321.0L270,321.7L264,322.4L257,323.1L251,323.8L244,324.6L238,325.5L231,326.9L225,328.3L218,329.7L211,331.1L205,332.5L198,334.1L192,336.5L185,338.9L179,340.2L172,341.0L166,341.0L159,341.2L153,342.5L146,343.8L140,346.1L133,348.8L127,351.2L120,353.6L114,356.0Z" fill="#549c9e"/><path d="M114,354.3L120,348.1L127,344.4L133,341.3L140,338.6L146,336.1L153,333.7L159,331.3L166,329.2L172,327.2L179,325.2L185,323.2L192,321.0L198,318.8L205,316.7L211,315.0L218,313.3L225,311.7L231,310.1L238,308.5L244,307.3L251,306.4L257,305.5L264,304.5L270,303.6L277,302.9L283,302.3L290,301.6L296,301.0L303,300.4L309,300.0L316,299.7L322,299.3L329,298.9L336,298.6L342,298.3L349,298.2L355,298.1L362,298.0L368,297.9L375,297.8L381,297.8L388,298.2L394,298.6L401,299.0L407,299.8L414,300.7L420,301.5L427,302.5L434,303.8L440,305.2L447,306.5L453,308.0L460,309.7L466,311.4L473,313.1L479,314.8L486,316.4L492,318.0L499,319.6L505,321.4L512,323.3L518,325.1L525,326.9L532,328.7L538,330.4L545,332.1L551,333.8L558,335.5L564,337.3L571,339.0L577,340.5L584,342.1L590,343.7L597,345.3L603,346.9L610,348.4L616,350.0L623,351.6L629,353.2L636,355.0L636,357.5L629,356.9L623,356.3L616,355.6L610,355.0L603,354.3L597,353.6L590,352.9L584,352.2L577,351.5L571,350.8L564,349.4L558,347.9L551,346.4L545,345.0L538,343.5L532,342.0L525,340.5L518,338.3L512,336.0L505,333.8L499,331.7L492,330.1L486,328.5L479,326.9L473,325.4L466,324.2L460,323.0L453,321.9L447,320.9L440,320.1L434,319.3L427,318.5L420,318.0L414,317.5L407,317.0L401,316.5L394,316.5L388,316.5L381,316.6L375,316.7L368,316.8L362,316.9L355,316.9L349,317.0L342,317.2L336,317.4L329,317.6L322,317.8L316,318.0L309,318.2L303,318.4L296,318.9L290,319.6L283,320.3L277,321.0L270,321.7L264,322.4L257,323.1L251,323.8L244,324.6L238,325.5L231,326.9L225,328.3L218,329.7L211,331.1L205,332.5L198,334.1L192,336.5L185,338.9L179,340.2L172,341.0L166,341.0L159,341.2L153,342.5L146,343.8L140,346.1L133,348.8L127,351.2L120,353.6L114,356.0Z" fill="#39a1a8"/><path d="M114,354.5L120,348.6L127,345.1L133,342.0L140,339.4L146,336.8L153,334.6L159,332.3L166,330.4L172,328.6L179,326.7L185,324.8L192,322.5L198,320.3L205,318.3L211,316.6L218,314.9L225,313.3L231,311.8L238,310.2L244,309.0L251,308.1L257,307.2L264,306.3L270,305.4L277,304.7L283,304.1L290,303.4L296,302.7L303,302.2L309,301.9L316,301.5L322,301.2L329,300.8L336,300.4L342,300.2L349,300.1L355,300.0L362,299.9L368,299.8L375,299.7L381,299.7L388,300.0L394,300.4L401,300.8L407,301.5L414,302.3L420,303.1L427,304.1L434,305.4L440,306.7L447,308.0L453,309.4L460,311.1L466,312.7L473,314.4L479,316.0L486,317.6L492,319.2L499,320.8L505,322.7L512,324.5L518,326.4L525,328.3L532,330.0L538,331.7L545,333.4L551,335.1L558,336.8L564,338.5L571,340.1L577,341.6L584,343.1L590,344.6L597,346.1L603,347.6L610,349.1L616,350.6L623,352.0L629,353.6L636,355.2L636,357.5L629,356.9L623,356.3L616,355.6L610,355.0L603,354.3L597,353.6L590,352.9L584,352.2L577,351.5L571,350.8L564,349.4L558,347.9L551,346.4L545,345.0L538,343.5L532,342.0L525,340.5L518,338.3L512,336.0L505,333.8L499,331.7L492,330.1L486,328.5L479,326.9L473,325.4L466,324.2L460,323.0L453,321.9L447,320.9L440,320.1L434,319.3L427,318.5L420,318.0L414,317.5L407,317.0L401,316.5L394,316.5L388,316.5L381,316.6L375,316.7L368,316.8L362,316.9L355,316.9L349,317.0L342,317.2L336,317.4L329,317.6L322,317.8L316,318.0L309,318.2L303,318.4L296,318.9L290,319.6L283,320.3L277,321.0L270,321.7L264,322.4L257,323.1L251,323.8L244,324.6L238,325.5L231,326.9L225,328.3L218,329.7L211,331.1L205,332.5L198,334.1L192,336.5L185,338.9L179,340.2L172,341.0L166,341.0L159,341.2L153,342.5L146,343.8L140,346.1L133,348.8L127,351.2L120,353.6L114,356.0Z" fill="#2c98a4"/><path d="M114,354.7L120,349.2L127,345.8L133,342.8L140,340.1L146,337.6L153,335.4L159,333.3L166,331.6L172,330.0L179,328.2L185,326.3L192,324.1L198,321.8L205,319.8L211,318.2L218,316.6L225,315.0L231,313.5L238,311.9L244,310.8L251,309.9L257,309.0L264,308.1L270,307.2L277,306.6L283,305.9L290,305.2L296,304.5L303,304.0L309,303.7L316,303.3L322,303.0L329,302.7L336,302.3L342,302.1L349,301.9L355,301.9L362,301.8L368,301.7L375,301.6L381,301.6L388,301.9L394,302.2L401,302.5L407,303.3L414,304.0L420,304.8L427,305.7L434,306.9L440,308.2L447,309.4L453,310.8L460,312.4L466,314.0L473,315.6L479,317.2L486,318.8L492,320.4L499,322.0L505,323.9L512,325.8L518,327.7L525,329.7L532,331.3L538,333.0L545,334.7L551,336.3L558,338.0L564,339.7L571,341.3L577,342.7L584,344.1L590,345.5L597,347.0L603,348.4L610,349.7L616,351.1L623,352.5L629,353.9L636,355.5L636,357.5L629,356.9L623,356.3L616,355.6L610,355.0L603,354.3L597,353.6L590,352.9L584,352.2L577,351.5L571,350.8L564,349.4L558,347.9L551,346.4L545,345.0L538,343.5L532,342.0L525,340.5L518,338.3L512,336.0L505,333.8L499,331.7L492,330.1L486,328.5L479,326.9L473,325.4L466,324.2L460,323.0L453,321.9L447,320.9L440,320.1L434,319.3L427,318.5L420,318.0L414,317.5L407,317.0L401,316.5L394,316.5L388,316.5L381,316.6L375,316.7L368,316.8L362,316.9L355,316.9L349,317.0L342,317.2L336,317.4L329,317.6L322,317.8L316,318.0L309,318.2L303,318.4L296,318.9L290,319.6L283,320.3L277,321.0L270,321.7L264,322.4L257,323.1L251,323.8L244,324.6L238,325.5L231,326.9L225,328.3L218,329.7L211,331.1L205,332.5L198,334.1L192,336.5L185,338.9L179,340.2L172,341.0L166,341.0L159,341.2L153,342.5L146,343.8L140,346.1L133,348.8L127,351.2L120,353.6L114,356.0Z" fill="#238f9f"/><path d="M114,354.8L120,349.7L127,346.5L133,343.5L140,340.9L146,338.4L153,336.3L159,334.2L166,332.8L172,331.4L179,329.7L185,327.9L192,325.6L198,323.4L205,321.4L211,319.8L218,318.2L225,316.7L231,315.1L238,313.6L244,312.5L251,311.6L257,310.8L264,309.9L270,309.0L277,308.4L283,307.7L290,307.0L296,306.3L303,305.8L309,305.5L316,305.2L322,304.9L329,304.5L336,304.2L342,304.0L349,303.8L355,303.7L362,303.7L368,303.6L375,303.5L381,303.5L388,303.7L394,303.9L401,304.2L407,305.0L414,305.7L420,306.4L427,307.3L434,308.5L440,309.6L447,310.8L453,312.2L460,313.7L466,315.3L473,316.8L479,318.4L486,320.0L492,321.6L499,323.3L505,325.1L512,327.1L518,329.1L525,331.0L532,332.7L538,334.3L545,336.0L551,337.6L558,339.3L564,340.9L571,342.5L577,343.8L584,345.1L590,346.5L597,347.8L603,349.1L610,350.4L616,351.7L623,353.0L629,354.3L636,355.8L636,357.5L629,356.9L623,356.3L616,355.6L610,355.0L603,354.3L597,353.6L590,352.9L584,352.2L577,351.5L571,350.8L564,349.4L558,347.9L551,346.4L545,345.0L538,343.5L532,342.0L525,340.5L518,338.3L512,336.0L505,333.8L499,331.7L492,330.1L486,328.5L479,326.9L473,325.4L466,324.2L460,323.0L453,321.9L447,320.9L440,320.1L434,319.3L427,318.5L420,318.0L414,317.5L407,317.0L401,316.5L394,316.5L388,316.5L381,316.6L375,316.7L368,316.8L362,316.9L355,316.9L349,317.0L342,317.2L336,317.4L329,317.6L322,317.8L316,318.0L309,318.2L303,318.4L296,318.9L290,319.6L283,320.3L277,321.0L270,321.7L264,322.4L257,323.1L251,323.8L244,324.6L238,325.5L231,326.9L225,328.3L218,329.7L211,331.1L205,332.5L198,334.1L192,336.5L185,338.9L179,340.2L172,341.0L166,341.0L159,341.2L153,342.5L146,343.8L140,346.1L133,348.8L127,351.2L120,353.6L114,356.0Z" fill="#1d8599"/><path d="M114,355.0L120,350.3L127,347.2L133,344.3L140,341.6L146,339.2L153,337.2L159,335.2L166,333.9L172,332.7L179,331.2L185,329.5L192,327.2L198,324.9L205,323.0L211,321.4L218,319.9L225,318.3L231,316.8L238,315.3L244,314.2L251,313.4L257,312.5L264,311.7L270,310.8L277,310.2L283,309.5L290,308.8L296,308.1L303,307.6L309,307.3L316,307.0L322,306.7L329,306.4L336,306.1L342,305.9L349,305.7L355,305.6L362,305.5L368,305.5L375,305.4L381,305.4L388,305.5L394,305.7L401,306.0L407,306.7L414,307.4L420,308.1L427,308.9L434,310.0L440,311.1L447,312.3L453,313.6L460,315.1L466,316.5L473,318.0L479,319.6L486,321.2L492,322.8L499,324.5L505,326.4L512,328.4L518,330.4L525,332.4L532,334.0L538,335.6L545,337.2L551,338.9L558,340.5L564,342.1L571,343.7L577,344.9L584,346.2L590,347.4L597,348.6L603,349.8L610,351.1L616,352.3L623,353.4L629,354.7L636,356.0L636,357.5L629,356.9L623,356.3L616,355.6L610,355.0L603,354.3L597,353.6L590,352.9L584,352.2L577,351.5L571,350.8L564,349.4L558,347.9L551,346.4L545,345.0L538,343.5L532,342.0L525,340.5L518,338.3L512,336.0L505,333.8L499,331.7L492,330.1L486,328.5L479,326.9L473,325.4L466,324.2L460,323.0L453,321.9L447,320.9L440,320.1L434,319.3L427,318.5L420,318.0L414,317.5L407,317.0L401,316.5L394,316.5L388,316.5L381,316.6L375,316.7L368,316.8L362,316.9L355,316.9L349,317.0L342,317.2L336,317.4L329,317.6L322,317.8L316,318.0L309,318.2L303,318.4L296,318.9L290,319.6L283,320.3L277,321.0L270,321.7L264,322.4L257,323.1L251,323.8L244,324.6L238,325.5L231,326.9L225,328.3L218,329.7L211,331.1L205,332.5L198,334.1L192,336.5L185,338.9L179,340.2L172,341.0L166,341.0L159,341.2L153,342.5L146,343.8L140,346.1L133,348.8L127,351.2L120,353.6L114,356.0Z" fill="#187b93"/><path d="M114,355.2L120,350.9L127,347.8L133,345.0L140,342.4L146,339.9L153,338.1L159,336.2L166,335.1L172,334.1L179,332.7L185,331.0L192,328.7L198,326.4L205,324.6L211,323.0L218,321.5L225,320.0L231,318.5L238,317.0L244,315.9L251,315.1L257,314.3L264,313.5L270,312.7L277,312.0L283,311.3L290,310.6L296,309.9L303,309.4L309,309.1L316,308.8L322,308.6L329,308.3L336,308.0L342,307.8L349,307.6L355,307.5L362,307.4L368,307.4L375,307.3L381,307.2L388,307.4L394,307.5L401,307.7L407,308.4L414,309.1L420,309.7L427,310.5L434,311.6L440,312.6L447,313.7L453,314.9L460,316.4L466,317.8L473,319.3L479,320.8L486,322.4L492,324.1L499,325.7L505,327.6L512,329.7L518,331.7L525,333.7L532,335.3L538,336.9L545,338.5L551,340.1L558,341.7L564,343.3L571,344.9L577,346.0L584,347.2L590,348.3L597,349.4L603,350.6L610,351.7L616,352.8L623,353.9L629,355.0L636,356.2L636,357.5L629,356.9L623,356.3L616,355.6L610,355.0L603,354.3L597,353.6L590,352.9L584,352.2L577,351.5L571,350.8L564,349.4L558,347.9L551,346.4L545,345.0L538,343.5L532,342.0L525,340.5L518,338.3L512,336.0L505,333.8L499,331.7L492,330.1L486,328.5L479,326.9L473,325.4L466,324.2L460,323.0L453,321.9L447,320.9L440,320.1L434,319.3L427,318.5L420,318.0L414,317.5L407,317.0L401,316.5L394,316.5L388,316.5L381,316.6L375,316.7L368,316.8L362,316.9L355,316.9L349,317.0L342,317.2L336,317.4L329,317.6L322,317.8L316,318.0L309,318.2L303,318.4L296,318.9L290,319.6L283,320.3L277,321.0L270,321.7L264,322.4L257,323.1L251,323.8L244,324.6L238,325.5L231,326.9L225,328.3L218,329.7L211,331.1L205,332.5L198,334.1L192,336.5L185,338.9L179,340.2L172,341.0L166,341.0L159,341.2L153,342.5L146,343.8L140,346.1L133,348.8L127,351.2L120,353.6L114,356.0Z" fill="#15758e"/><path d="M114,355.3L120,351.4L127,348.5L133,345.8L140,343.1L146,340.7L153,338.9L159,337.2L166,336.3L172,335.5L179,334.2L185,332.6L192,330.3L198,328.0L205,326.1L211,324.6L218,323.1L225,321.6L231,320.2L238,318.7L244,317.7L251,316.9L257,316.1L264,315.3L270,314.5L277,313.8L283,313.1L290,312.4L296,311.7L303,311.2L309,310.9L316,310.7L322,310.4L329,310.1L336,309.9L342,309.6L349,309.5L355,309.4L362,309.3L368,309.2L375,309.2L381,309.1L388,309.2L394,309.3L401,309.5L407,310.1L414,310.7L420,311.4L427,312.1L434,313.1L440,314.1L447,315.1L453,316.3L460,317.7L466,319.1L473,320.5L479,322.0L486,323.6L492,325.3L499,326.9L505,328.9L512,330.9L518,333.0L525,335.1L532,336.7L538,338.2L545,339.8L551,341.4L558,343.0L564,344.6L571,346.1L577,347.1L584,348.2L590,349.2L597,350.3L603,351.3L610,352.4L616,353.4L623,354.4L629,355.4L636,356.5L636,357.5L629,356.9L623,356.3L616,355.6L610,355.0L603,354.3L597,353.6L590,352.9L584,352.2L577,351.5L571,350.8L564,349.4L558,347.9L551,346.4L545,345.0L538,343.5L532,342.0L525,340.5L518,338.3L512,336.0L505,333.8L499,331.7L492,330.1L486,328.5L479,326.9L473,325.4L466,324.2L460,323.0L453,321.9L447,320.9L440,320.1L434,319.3L427,318.5L420,318.0L414,317.5L407,317.0L401,316.5L394,316.5L388,316.5L381,316.6L375,316.7L368,316.8L362,316.9L355,316.9L349,317.0L342,317.2L336,317.4L329,317.6L322,317.8L316,318.0L309,318.2L303,318.4L296,318.9L290,319.6L283,320.3L277,321.0L270,321.7L264,322.4L257,323.1L251,323.8L244,324.6L238,325.5L231,326.9L225,328.3L218,329.7L211,331.1L205,332.5L198,334.1L192,336.5L185,338.9L179,340.2L172,341.0L166,341.0L159,341.2L153,342.5L146,343.8L140,346.1L133,348.8L127,351.2L120,353.6L114,356.0Z" fill="#126f89"/><path d="M114,355.5L120,352.0L127,349.2L133,346.5L140,343.9L146,341.5L153,339.8L159,338.2L166,337.5L172,336.9L179,335.7L185,334.2L192,331.8L198,329.5L205,327.7L211,326.2L218,324.8L225,323.3L231,321.9L238,320.4L244,319.4L251,318.6L257,317.8L264,317.1L270,316.3L277,315.6L283,314.9L290,314.2L296,313.5L303,313.0L309,312.8L316,312.5L322,312.3L329,312.0L336,311.8L342,311.5L349,311.4L355,311.3L362,311.2L368,311.1L375,311.0L381,311.0L388,311.0L394,311.1L401,311.2L407,311.8L414,312.4L420,313.0L427,313.7L434,314.7L440,315.6L447,316.6L453,317.7L460,319.0L466,320.4L473,321.7L479,323.2L486,324.8L492,326.5L499,328.1L505,330.1L512,332.2L518,334.3L525,336.4L532,338.0L538,339.5L545,341.1L551,342.7L558,344.2L564,345.8L571,347.3L577,348.2L584,349.2L590,350.1L597,351.1L603,352.1L610,353.0L616,353.9L623,354.9L629,355.8L636,356.8L636,357.5L629,356.9L623,356.3L616,355.6L610,355.0L603,354.3L597,353.6L590,352.9L584,352.2L577,351.5L571,350.8L564,349.4L558,347.9L551,346.4L545,345.0L538,343.5L532,342.0L525,340.5L518,338.3L512,336.0L505,333.8L499,331.7L492,330.1L486,328.5L479,326.9L473,325.4L466,324.2L460,323.0L453,321.9L447,320.9L440,320.1L434,319.3L427,318.5L420,318.0L414,317.5L407,317.0L401,316.5L394,316.5L388,316.5L381,316.6L375,316.7L368,316.8L362,316.9L355,316.9L349,317.0L342,317.2L336,317.4L329,317.6L322,317.8L316,318.0L309,318.2L303,318.4L296,318.9L290,319.6L283,320.3L277,321.0L270,321.7L264,322.4L257,323.1L251,323.8L244,324.6L238,325.5L231,326.9L225,328.3L218,329.7L211,331.1L205,332.5L198,334.1L192,336.5L185,338.9L179,340.2L172,341.0L166,341.0L159,341.2L153,342.5L146,343.8L140,346.1L133,348.8L127,351.2L120,353.6L114,356.0Z" fill="#0f6984"/><path d="M114,355.7L120,352.5L127,349.9L133,347.3L140,344.6L146,342.2L153,340.7L159,339.2L166,338.6L172,338.2L179,337.2L185,335.7L192,333.4L198,331.0L205,329.3L211,327.8L218,326.4L225,325.0L231,323.5L238,322.1L244,321.1L251,320.4L257,319.6L264,318.8L270,318.1L277,317.4L283,316.7L290,316.0L296,315.3L303,314.8L309,314.6L316,314.4L322,314.1L329,313.9L336,313.7L342,313.4L349,313.3L355,313.2L362,313.1L368,313.0L375,312.9L381,312.9L388,312.9L394,312.9L401,313.0L407,313.5L414,314.1L420,314.7L427,315.3L434,316.2L440,317.1L447,318.0L453,319.1L460,320.4L466,321.7L473,322.9L479,324.4L486,326.1L492,327.7L499,329.3L505,331.3L512,333.5L518,335.6L525,337.8L532,339.3L538,340.9L545,342.4L551,343.9L558,345.5L564,347.0L571,348.4L577,349.3L584,350.2L590,351.1L597,351.9L603,352.8L610,353.7L616,354.5L623,355.3L629,356.1L636,357.0L636,357.5L629,356.9L623,356.3L616,355.6L610,355.0L603,354.3L597,353.6L590,352.9L584,352.2L577,351.5L571,350.8L564,349.4L558,347.9L551,346.4L545,345.0L538,343.5L532,342.0L525,340.5L518,338.3L512,336.0L505,333.8L499,331.7L492,330.1L486,328.5L479,326.9L473,325.4L466,324.2L460,323.0L453,321.9L447,320.9L440,320.1L434,319.3L427,318.5L420,318.0L414,317.5L407,317.0L401,316.5L394,316.5L388,316.5L381,316.6L375,316.7L368,316.8L362,316.9L355,316.9L349,317.0L342,317.2L336,317.4L329,317.6L322,317.8L316,318.0L309,318.2L303,318.4L296,318.9L290,319.6L283,320.3L277,321.0L270,321.7L264,322.4L257,323.1L251,323.8L244,324.6L238,325.5L231,326.9L225,328.3L218,329.7L211,331.1L205,332.5L198,334.1L192,336.5L185,338.9L179,340.2L172,341.0L166,341.0L159,341.2L153,342.5L146,343.8L140,346.1L133,348.8L127,351.2L120,353.6L114,356.0Z" fill="#106c8c"/><path d="M114,355.8L120,353.1L127,350.6L133,348.0L140,345.4L146,343.0L153,341.6L159,340.2L166,339.8L172,339.6L179,338.7L185,337.3L192,334.9L198,332.6L205,330.9L211,329.5L218,328.0L225,326.6L231,325.2L238,323.8L244,322.8L251,322.1L257,321.4L264,320.6L270,319.9L277,319.2L283,318.5L290,317.8L296,317.1L303,316.6L309,316.4L316,316.2L322,316.0L329,315.8L336,315.5L342,315.3L349,315.2L355,315.1L362,315.0L368,314.9L375,314.8L381,314.7L388,314.7L394,314.7L401,314.7L407,315.2L414,315.8L420,316.3L427,316.9L434,317.8L440,318.6L447,319.5L453,320.5L460,321.7L466,322.9L473,324.2L479,325.6L486,327.3L492,328.9L499,330.5L505,332.6L512,334.8L518,337.0L525,339.1L532,340.6L538,342.2L545,343.7L551,345.2L558,346.7L564,348.2L571,349.6L577,350.4L584,351.2L590,352.0L597,352.8L603,353.5L610,354.3L616,355.1L623,355.8L629,356.5L636,357.2L636,357.5L629,356.9L623,356.3L616,355.6L610,355.0L603,354.3L597,353.6L590,352.9L584,352.2L577,351.5L571,350.8L564,349.4L558,347.9L551,346.4L545,345.0L538,343.5L532,342.0L525,340.5L518,338.3L512,336.0L505,333.8L499,331.7L492,330.1L486,328.5L479,326.9L473,325.4L466,324.2L460,323.0L453,321.9L447,320.9L440,320.1L434,319.3L427,318.5L420,318.0L414,317.5L407,317.0L401,316.5L394,316.5L388,316.5L381,316.6L375,316.7L368,316.8L362,316.9L355,316.9L349,317.0L342,317.2L336,317.4L329,317.6L322,317.8L316,318.0L309,318.2L303,318.4L296,318.9L290,319.6L283,320.3L277,321.0L270,321.7L264,322.4L257,323.1L251,323.8L244,324.6L238,325.5L231,326.9L225,328.3L218,329.7L211,331.1L205,332.5L198,334.1L192,336.5L185,338.9L179,340.2L172,341.0L166,341.0L159,341.2L153,342.5L146,343.8L140,346.1L133,348.8L127,351.2L120,353.6L114,356.0Z" fill="#127295"/>
<path d="M253.4,314.2 l4.2,0 l3.4,8.8 l-4.2,0 z" fill="#2f9e9e" opacity="0.23"/><path d="M251.0,313.6 l3.4,0 l2.8,7.5 l-3.4,0 z" fill="#3fae9e" opacity="0.24"/><path d="M266.5,312.6 l4.2,0 l3.4,9.0 l-4.2,0 z" fill="#2f9e9e" opacity="0.23"/><path d="M264.1,312.0 l3.4,0 l2.8,7.7 l-3.4,0 z" fill="#3fae9e" opacity="0.24"/><path d="M279.6,311.1 l4.2,0 l3.4,9.1 l-4.2,0 z" fill="#2f9e9e" opacity="0.23"/><path d="M277.2,310.5 l3.4,0 l2.8,7.7 l-3.4,0 z" fill="#3fae9e" opacity="0.24"/><path d="M292.7,309.7 l4.2,0 l3.4,9.1 l-4.2,0 z" fill="#2f9e9e" opacity="0.30"/><path d="M290.3,309.1 l3.4,0 l2.8,7.7 l-3.4,0 z" fill="#3fae9e" opacity="0.32"/><path d="M305.8,308.5 l4.2,0 l3.4,9.1 l-4.2,0 z" fill="#30a09d" opacity="0.50"/><path d="M303.4,307.9 l3.4,0 l2.8,7.7 l-3.4,0 z" fill="#47b199" opacity="0.53"/><path d="M318.9,307.9 l4.2,0 l3.4,9.3 l-4.2,0 z" fill="#35a897" opacity="0.70"/><path d="M316.5,307.3 l3.4,0 l2.8,7.9 l-3.4,0 z" fill="#66bf85" opacity="0.74"/><path d="M332.0,307.4 l4.2,0 l3.4,9.4 l-4.2,0 z" fill="#3ab192" opacity="0.89"/><path d="M329.6,306.8 l3.4,0 l2.8,8.0 l-3.4,0 z" fill="#85cc72" opacity="0.94"/><path d="M345.1,306.9 l4.2,0 l3.4,9.6 l-4.2,0 z" fill="#3fb98d" opacity="0.90"/><path d="M342.7,306.3 l3.4,0 l2.8,8.1 l-3.4,0 z" fill="#a4d95e" opacity="0.95"/><path d="M358.2,306.6 l4.2,0 l3.4,9.5 l-4.2,0 z" fill="#44c188" opacity="0.90"/><path d="M355.8,306.0 l3.4,0 l2.8,8.1 l-3.4,0 z" fill="#c3e64a" opacity="0.95"/><path d="M371.3,306.5 l4.2,0 l3.4,9.5 l-4.2,0 z" fill="#46c486" opacity="0.90"/><path d="M368.9,305.9 l3.4,0 l2.8,8.1 l-3.4,0 z" fill="#cdea44" opacity="0.95"/><path d="M384.4,306.4 l4.2,0 l3.4,9.4 l-4.2,0 z" fill="#46c486" opacity="0.90"/><path d="M382.0,305.8 l3.4,0 l2.8,8.0 l-3.4,0 z" fill="#cdea44" opacity="0.95"/><path d="M397.5,306.7 l4.2,0 l3.4,9.0 l-4.2,0 z" fill="#46c486" opacity="0.90"/><path d="M395.1,306.1 l3.4,0 l2.8,7.6 l-3.4,0 z" fill="#cdea44" opacity="0.95"/><path d="M410.6,307.6 l4.2,0 l3.4,8.6 l-4.2,0 z" fill="#46c486" opacity="0.90"/><path d="M408.2,307.0 l3.4,0 l2.8,7.3 l-3.4,0 z" fill="#cdea44" opacity="0.95"/><path d="M423.7,308.9 l4.2,0 l3.4,8.3 l-4.2,0 z" fill="#46c486" opacity="0.90"/><path d="M421.3,308.3 l3.4,0 l2.8,7.0 l-3.4,0 z" fill="#cdea44" opacity="0.95"/><path d="M436.8,310.8 l4.2,0 l3.4,7.8 l-4.2,0 z" fill="#46c486" opacity="0.90"/><path d="M434.4,310.2 l3.4,0 l2.8,6.6 l-3.4,0 z" fill="#cdea44" opacity="0.95"/><path d="M449.9,313.0 l4.2,0 l3.4,7.2 l-4.2,0 z" fill="#46c486" opacity="0.90"/><path d="M447.5,312.4 l3.4,0 l2.8,6.1 l-3.4,0 z" fill="#cdea44" opacity="0.95"/><path d="M463.0,315.7 l4.2,0 l3.4,6.7 l-4.2,0 z" fill="#46c486" opacity="0.90"/><path d="M460.6,315.1 l3.4,0 l2.8,5.7 l-3.4,0 z" fill="#cdea44" opacity="0.95"/><path d="M476.1,318.6 l4.2,0 l3.4,6.1 l-4.2,0 z" fill="#46c486" opacity="0.82"/><path d="M473.7,318.0 l3.4,0 l2.8,5.2 l-3.4,0 z" fill="#cdea44" opacity="0.86"/><path d="M489.2,321.8 l4.2,0 l3.4,6.1 l-4.2,0 z" fill="#46c486" opacity="0.52"/><path d="M486.8,321.2 l3.4,0 l2.8,5.2 l-3.4,0 z" fill="#cdea44" opacity="0.55"/><path d="M502.3,325.1 l4.2,0 l3.4,6.1 l-4.2,0 z" fill="#46c486" opacity="0.23"/><path d="M499.9,324.5 l3.4,0 l2.8,5.2 l-3.4,0 z" fill="#cdea44" opacity="0.24"/>
<path d="M114,354.0L120,347.0L127,343.1L133,339.8L140,337.1L146,334.5L153,331.9L159,329.3L166,326.9L172,324.5L179,322.2L185,320.1L192,317.9L198,315.7L205,313.5L211,311.8L218,310.0L225,308.4L231,306.7L238,305.1L244,303.9L251,302.9L257,301.9L264,300.9L270,300.0L277,299.3L283,298.7L290,298.0L296,297.4L303,296.8L309,296.4L316,296.0L322,295.6L329,295.2L336,294.8L342,294.5L349,294.4L355,294.3L362,294.2L368,294.1L375,294.1L381,294.1L388,294.5L394,295.0L401,295.5L407,296.4L414,297.3L420,298.2L427,299.2L434,300.7L440,302.2L447,303.6L453,305.3L460,307.1L466,308.9L473,310.7L479,312.4L486,314.0L492,315.6L499,317.2L505,319.0L512,320.7L518,322.5L525,324.2L532,326.0L538,327.8L545,329.5L551,331.3L558,333.1L564,334.8L571,336.6L577,338.3L584,340.1L590,341.9L597,343.6L603,345.4L610,347.1L616,348.9L623,350.6L629,352.5L636,354.5L636,357.5L629,356.9L623,356.3L616,355.6L610,355.0L603,354.3L597,353.6L590,352.9L584,352.2L577,351.5L571,350.8L564,349.4L558,347.9L551,346.4L545,345.0L538,343.5L532,342.0L525,340.5L518,338.3L512,336.0L505,333.8L499,331.7L492,330.1L486,328.5L479,326.9L473,325.4L466,324.2L460,323.0L453,321.9L447,320.9L440,320.1L434,319.3L427,318.5L420,318.0L414,317.5L407,317.0L401,316.5L394,316.5L388,316.5L381,316.6L375,316.7L368,316.8L362,316.9L355,316.9L349,317.0L342,317.2L336,317.4L329,317.6L322,317.8L316,318.0L309,318.2L303,318.4L296,318.9L290,319.6L283,320.3L277,321.0L270,321.7L264,322.4L257,323.1L251,323.8L244,324.6L238,325.5L231,326.9L225,328.3L218,329.7L211,331.1L205,332.5L198,334.1L192,336.5L185,338.9L179,340.2L172,341.0L166,341.0L159,341.2L153,342.5L146,343.8L140,346.1L133,348.8L127,351.2L120,353.6L114,356.0Z" fill="url(#gshadex)"/>
<path d="M114,356.0L120,353.6L127,351.2L133,348.8L140,346.1L146,343.8L153,342.5L159,341.2L166,341.0L172,341.0L179,340.2L185,338.9L192,336.5L198,334.1L205,332.5L211,331.1L218,329.7L225,328.3L231,326.9L238,325.5L244,324.6L251,323.8L257,323.1L264,322.4L270,321.7L277,321.0L283,320.3L290,319.6L296,318.9L303,318.4L309,318.2L316,318.0L322,317.8L329,317.6L336,317.4L342,317.2L349,317.0L355,316.9L362,316.9L368,316.8L375,316.7L381,316.6L388,316.5L394,316.5L401,316.5L407,317.0L414,317.5L420,318.0L427,318.5L434,319.3L440,320.1L447,320.9L453,321.9L460,323.0L466,324.2L473,325.4L479,326.9L486,328.5L492,330.1L499,331.7L505,333.8L512,336.0L518,338.3L525,340.5L532,342.0L538,343.5L545,345.0L551,346.4L558,347.9L564,349.4L571,350.8L577,351.5L584,352.2L590,352.9L597,353.6L603,354.3L610,355.0L616,355.6L623,356.3L629,356.9L636,357.5L636,367.0L629,368.7L623,369.0L616,369.3L610,369.6L603,369.9L597,370.3L590,370.8L584,371.4L577,371.9L571,372.4L564,373.6L558,374.8L551,376.0L545,377.3L538,378.5L532,379.7L525,381.1L518,382.5L512,383.9L505,385.3L499,386.7L492,387.7L486,388.6L479,389.5L473,389.9L466,390.2L460,390.5L453,390.3L447,390.2L440,390.0L434,389.6L427,389.2L420,388.8L414,388.4L407,388.0L401,387.6L394,387.5L388,387.4L381,387.3L375,387.3L368,387.2L362,387.2L355,387.1L349,387.1L342,387.0L336,387.1L329,387.2L322,387.3L316,387.4L309,387.5L303,387.6L296,387.7L290,387.8L283,387.9L277,388.1L270,388.4L264,388.6L257,388.9L251,389.1L244,389.3L238,389.7L231,390.1L225,390.5L218,390.9L211,391.3L205,391.7L198,392.1L192,392.5L185,392.9L179,393.3L172,393.4L166,393.2L159,392.9L153,392.3L146,389.0L140,382.9L133,374.6L127,370.0L120,364.0L114,354.0Z" fill="url(#gshadex)" opacity="0.45"/>
<ellipse cx="245.0" cy="349.0" rx="6" ry="4.9" fill="#14275a" transform="rotate(-25 245.0 349.0)"/>
<ellipse cx="279.0" cy="343.5" rx="6" ry="4.9" fill="#14275a" transform="rotate(-25 279.0 343.5)"/>
<ellipse cx="308.0" cy="341.5" rx="6" ry="4.9" fill="#14275a" transform="rotate(-25 308.0 341.5)"/>
<ellipse cx="343.0" cy="340.5" rx="6" ry="4.9" fill="#14275a" transform="rotate(-25 343.0 340.5)"/>
<ellipse cx="376.5" cy="341.0" rx="6" ry="4.9" fill="#14275a" transform="rotate(-25 376.5 341.0)"/>
<ellipse cx="410.0" cy="345.0" rx="6" ry="4.9" fill="#14275a" transform="rotate(-25 410.0 345.0)"/>
<ellipse cx="439.0" cy="346.5" rx="6" ry="4.9" fill="#14275a" transform="rotate(-25 439.0 346.5)"/>
<path d="M113,354 L150,350 L200,345 L222,360 L230,396 L150,396 L135,376 Z" fill="url(#ghead)"/>
<path d="M113.5,354 L126,346 L140,342 L138,362 L146,372 L150,392 L135,376 L120,364 Z" fill="#33481a"/>
<path d="M118,356 l10,-5 l3,6 l-8,6z M128,366 l8,-3 l5,9 l-6,3z" fill="#a9c428" opacity="0.75"/>
<path d="M114,354.0L116,351.8L118,349.7L120,347.5L122,346.1L124,344.9L126,343.7L128,342.5L130,341.3L132,340.4L134,339.6L136,338.8L138,338.0L140,337.2L142,336.4L144,335.6L146,334.8L148,334.0L150,333.2L152,332.4L154,331.6L156,330.8L158,330.0L160,329.2L162,328.4L164,327.7L166,327.0L168,326.2L170,325.5L172,324.8L174,324.1L176,323.3L178,322.7L180,322.0L182,321.3L184,320.7L186,320.0L188,319.3L190,318.7L192,318.0L194,317.3L196,316.7L198,316.0L200,315.3L202,314.7L204,314.0L206,313.4L208,312.8L210,312.3L212,311.8L214,311.2L216,310.7L218,310.2L220,309.6L222,309.1L224,308.6L226,308.1L228,307.6L230,307.1L232,306.6L232,326.8L230,327.2L228,327.7L226,328.1L224,328.5L222,328.9L220,329.4L218,329.8L216,330.2L214,330.6L212,331.1L210,331.5L208,331.9L206,332.3L204,332.8L202,333.2L200,333.7L198,334.4L196,335.1L194,335.9L192,336.6L190,337.4L188,338.1L186,338.8L184,339.3L182,339.7L180,340.1L178,340.5L176,340.9L174,341.0L172,341.0L170,341.0L168,341.0L166,341.0L164,341.0L162,341.0L160,341.1L158,341.5L156,341.9L154,342.3L152,342.7L150,343.1L148,343.5L146,343.9L144,344.6L142,345.4L140,346.2L138,347.0L136,347.8L134,348.6L132,349.4L130,350.2L128,350.9L126,351.6L124,352.4L122,353.1L120,353.8L118,354.5L116,355.3L114,356.0Z" fill="url(#gheadshade)"/>
<path d="M140,362 C150,372 166,372 176,366 L186,378 L160,384 L146,378 Z" fill="#2e3c10" opacity="0.85"/>
<path d="M152,380 l9,-3 l4,12 l-9,2z M168,378 l8,-1 l3,12 l-8,1z M184,381 l7,1 l1,10 l-7,0z" fill="#d6e83a" opacity="0.8"/>
<path d="M176,341 C190,333 206,334 215,344 C225,355 231,367 228,378 C224,387 206,388 190,382 C178,377 171,366 173,355 Z" fill="url(#ggill)" stroke="#dfe6c2" stroke-width="1.8"/>
<path d="M199,352 l7,0 l0,24 l-7,0z" fill="#8fb0e0" opacity="0.75"/><path d="M213,356 l7,1.5 l0,20 l-7,0z" fill="#a8bdf0" opacity="0.8"/><path d="M189,356 l4,0 l0,22 l-4,-1z" fill="#59c08a" opacity="0.55"/>
<ellipse cx="178" cy="361" rx="10" ry="11.5" fill="#28340f" opacity="0.9"/>
</g>
<g transform="rotate(-12 154 352.5)"><ellipse cx="154" cy="352.5" rx="20.5" ry="15.5" fill="#2e4234"/><ellipse cx="154" cy="352.5" rx="17.2" ry="12.5" fill="#b81818"/><ellipse cx="154" cy="349" rx="13" ry="6" fill="#d42020" opacity="0.6"/><ellipse cx="156.2" cy="354.6" rx="12.4" ry="7.8" fill="#15171a"/><ellipse cx="162.6" cy="349.2" rx="2.2" ry="1.5" fill="#eee" opacity="0.85"/></g>
<path d="M55.5,410.0C56.5,407.0 62.2,401.4 67.5,397.0C72.8,392.6 83.5,387.0 87.0,383.5C90.5,380.0 86.8,379.0 88.5,376.0C90.2,373.0 95.2,368.5 97.5,365.5C99.8,362.5 99.8,359.5 102.0,358.0C104.2,356.5 108.7,356.5 111.0,356.5C113.3,356.5 113.5,356.1 116.0,358.0C118.5,359.9 122.5,364.8 126.0,368.0C129.5,371.2 134.2,374.0 137.0,377.0C139.8,380.0 140.8,383.6 143.0,386.0C145.2,388.4 150.8,390.2 150.0,391.7C149.2,393.1 143.5,393.3 138.0,394.7C132.5,396.1 124.5,397.9 117.0,400.0C109.5,402.1 102.2,405.0 93.0,407.5C83.8,410.0 67.8,414.6 61.5,415.0C55.2,415.4 54.5,413.0 55.5,410.0Z" fill="url(#glip)"/>
<path d="M60,412 L96,391 L110,380 M72,408 L120,383 L130,376 M90,384 L112,371 M96,404 L134,389 M84,398 L104,386 M118,396 L142,388" stroke="#9c9c98" stroke-width="1.5" fill="none" opacity="0.85"/>
<path d="M66,406 L108,381 M80,409 L128,387" stroke="#fff" stroke-width="2.2" opacity="0.9" fill="none"/>
<path d="M61.5,415 L93,407.5 L117,400 L138,394.7 L150,391.7" stroke="#8f8f8a" stroke-width="1.6" fill="none" opacity="0.7"/>
<path d="M99,362 C101,356 108,354.5 113,357.5 C117,360.5 116,367 111.5,369.5 C106,372 98,369 99,362Z" fill="#e8e8e5" stroke="#8e8e8a" stroke-width="1.2"/>
<ellipse cx="110" cy="362.5" rx="3" ry="3.6" fill="#fbfbfa"/><path d="M103,366 q3,3 7,2" stroke="#777" stroke-width="1" fill="none"/>
</g>
<g id="hooks" fill="none" stroke-linecap="round" stroke-linejoin="round"><path d="M355.0,407.0C355.9,404.5 360.6,397.0 360.6,392.0C360.6,387.0 357.8,380.6 355.0,377.0C352.2,373.4 348.2,371.7 343.8,370.3C339.4,368.9 333.5,368.5 328.8,368.4C324.1,368.3 317.8,369.4 315.6,369.6" stroke="#77777a" stroke-width="2.9"/><path d="M355.0,407.0C355.9,404.5 360.6,397.0 360.6,392.0C360.6,387.0 357.8,380.6 355.0,377.0C352.2,373.4 348.2,371.7 343.8,370.3C339.4,368.9 333.5,368.5 328.8,368.4C324.1,368.3 317.8,369.4 315.6,369.6" stroke="#cfcfcc" stroke-width="1.9"/><path d="M355.0,407.0C355.9,404.5 360.6,397.0 360.6,392.0C360.6,387.0 357.8,380.6 355.0,377.0C352.2,373.4 348.2,371.7 343.8,370.3C339.4,368.9 333.5,368.5 328.8,368.4C324.1,368.3 317.8,369.4 315.6,369.6" stroke="#f4f4f2" stroke-width="0.7" opacity="0.7"/><path d="M347.5,414.0C349.1,415.9 355.2,421.5 356.9,425.6C358.6,429.7 359.4,434.4 357.8,438.8C356.2,443.2 351.7,448.9 347.5,451.9C343.3,454.9 338.1,456.1 332.5,456.6C326.9,457.1 316.9,455.0 313.8,454.7" stroke="#77777a" stroke-width="2.9"/><path d="M347.5,414.0C349.1,415.9 355.2,421.5 356.9,425.6C358.6,429.7 359.4,434.4 357.8,438.8C356.2,443.2 351.7,448.9 347.5,451.9C343.3,454.9 338.1,456.1 332.5,456.6C326.9,457.1 316.9,455.0 313.8,454.7" stroke="#cfcfcc" stroke-width="1.9"/><path d="M347.5,414.0C349.1,415.9 355.2,421.5 356.9,425.6C358.6,429.7 359.4,434.4 357.8,438.8C356.2,443.2 351.7,448.9 347.5,451.9C343.3,454.9 338.1,456.1 332.5,456.6C326.9,457.1 316.9,455.0 313.8,454.7" stroke="#f4f4f2" stroke-width="0.7" opacity="0.7"/><path d="M284,404 L366,407.5 L371,410 L366,412 L300,411.5 L284,410Z" fill="#c6c6c2" stroke="#808080" stroke-width="1"/><path d="M290,406.5 L362,409" stroke="#f0f0ee" stroke-width="1.4"/><path d="M243.0,392.0C244.2,390.9 247.5,390.3 250.0,390.5C252.5,390.7 256.0,391.8 258.0,393.0C260.0,394.2 260.3,396.7 262.0,398.0C263.7,399.3 266.0,400.8 268.0,401.0C270.0,401.2 271.3,399.0 274.0,399.0C276.7,399.0 281.5,399.7 284.0,401.0C286.5,402.3 288.7,404.8 289.0,407.0C289.3,409.2 287.8,412.3 286.0,414.0C284.2,415.7 280.7,417.0 278.0,417.0C275.3,417.0 272.3,415.7 270.0,414.0C267.7,412.3 266.3,408.7 264.0,407.0C261.7,405.3 258.8,404.8 256.0,404.0C253.2,403.2 249.2,403.2 247.0,402.0C244.8,400.8 243.7,398.7 243.0,397.0C242.3,395.3 241.8,393.1 243.0,392.0Z" fill="#b9b9b5" stroke="#7d7d7a" stroke-width="1"/><ellipse cx="278" cy="408" rx="5" ry="4" fill="#77777a"/><ellipse cx="251" cy="396.5" rx="3.6" ry="2.6" fill="#e6e6e2"/><path d="M262,399 L272,410" stroke="#ededea" stroke-width="1.6"/><path d="M558.0,397.0C558.8,394.2 563.0,384.8 563.0,380.0C563.0,375.2 560.5,371.0 558.0,368.0C555.5,365.0 551.7,363.3 548.0,362.0C544.3,360.7 540.0,360.1 536.0,360.0C532.0,359.9 526.0,361.3 524.0,361.6" stroke="#77777a" stroke-width="2.9"/><path d="M558.0,397.0C558.8,394.2 563.0,384.8 563.0,380.0C563.0,375.2 560.5,371.0 558.0,368.0C555.5,365.0 551.7,363.3 548.0,362.0C544.3,360.7 540.0,360.1 536.0,360.0C532.0,359.9 526.0,361.3 524.0,361.6" stroke="#cfcfcc" stroke-width="1.9"/><path d="M558.0,397.0C558.8,394.2 563.0,384.8 563.0,380.0C563.0,375.2 560.5,371.0 558.0,368.0C555.5,365.0 551.7,363.3 548.0,362.0C544.3,360.7 540.0,360.1 536.0,360.0C532.0,359.9 526.0,361.3 524.0,361.6" stroke="#f4f4f2" stroke-width="0.7" opacity="0.7"/><path d="M550.0,404.0C551.7,406.0 557.8,412.0 560.0,416.0C562.2,420.0 563.7,424.3 563.0,428.0C562.3,431.7 559.2,435.2 556.0,438.0C552.8,440.8 549.2,443.8 544.0,445.0C538.8,446.2 528.2,445.0 525.0,445.0" stroke="#77777a" stroke-width="2.9"/><path d="M550.0,404.0C551.7,406.0 557.8,412.0 560.0,416.0C562.2,420.0 563.7,424.3 563.0,428.0C562.3,431.7 559.2,435.2 556.0,438.0C552.8,440.8 549.2,443.8 544.0,445.0C538.8,446.2 528.2,445.0 525.0,445.0" stroke="#cfcfcc" stroke-width="1.9"/><path d="M550.0,404.0C551.7,406.0 557.8,412.0 560.0,416.0C562.2,420.0 563.7,424.3 563.0,428.0C562.3,431.7 559.2,435.2 556.0,438.0C552.8,440.8 549.2,443.8 544.0,445.0C538.8,446.2 528.2,445.0 525.0,445.0" stroke="#f4f4f2" stroke-width="0.7" opacity="0.7"/><path d="M484,396.5 L564,398 L570,400 L564,402.5 L500,403.5 L484,403Z" fill="#c6c6c2" stroke="#808080" stroke-width="1"/><path d="M490,399 L560,400" stroke="#f0f0ee" stroke-width="1.4"/><path d="M442.0,392.0C443.4,391.1 447.3,390.5 450.0,390.5C452.7,390.5 456.0,391.2 458.0,392.0C460.0,392.8 460.0,394.8 462.0,395.0C464.0,395.2 467.0,393.2 470.0,393.0C473.0,392.8 477.0,393.0 480.0,394.0C483.0,395.0 487.0,397.0 488.0,399.0C489.0,401.0 487.7,404.3 486.0,406.0C484.3,407.7 481.0,408.7 478.0,409.0C475.0,409.3 471.0,409.0 468.0,408.0C465.0,407.0 462.7,403.9 460.0,403.0C457.3,402.1 454.5,403.0 452.0,402.5C449.5,402.0 446.8,401.1 445.0,400.0C443.2,398.9 442.0,397.3 441.5,396.0C441.0,394.7 440.6,392.9 442.0,392.0Z" fill="#b9b9b5" stroke="#7d7d7a" stroke-width="1"/><ellipse cx="477" cy="401" rx="5" ry="3.6" fill="#77777a"/><ellipse cx="450" cy="396" rx="3.6" ry="2.4" fill="#e6e6e2"/><path d="M705.0,352.5C706.7,351.2 712.5,348.3 715.0,345.0C717.5,341.7 720.0,336.0 720.0,332.5C720.0,329.0 717.9,325.5 715.0,323.8C712.1,322.1 706.7,322.1 702.5,322.5C698.3,322.9 692.1,325.4 690.0,326.0" stroke="#77777a" stroke-width="2.9"/><path d="M705.0,352.5C706.7,351.2 712.5,348.3 715.0,345.0C717.5,341.7 720.0,336.0 720.0,332.5C720.0,329.0 717.9,325.5 715.0,323.8C712.1,322.1 706.7,322.1 702.5,322.5C698.3,322.9 692.1,325.4 690.0,326.0" stroke="#cfcfcc" stroke-width="1.9"/><path d="M705.0,352.5C706.7,351.2 712.5,348.3 715.0,345.0C717.5,341.7 720.0,336.0 720.0,332.5C720.0,329.0 717.9,325.5 715.0,323.8C712.1,322.1 706.7,322.1 702.5,322.5C698.3,322.9 692.1,325.4 690.0,326.0" stroke="#f4f4f2" stroke-width="0.7" opacity="0.7"/><path d="M700.0,360.0C702.5,360.4 710.4,360.0 715.0,362.5C719.6,365.0 725.2,370.8 727.5,375.0C729.8,379.2 730.0,383.5 728.8,387.5C727.5,391.5 724.4,396.1 720.0,398.8C715.6,401.5 705.4,403.0 702.5,403.8" stroke="#77777a" stroke-width="2.9"/><path d="M700.0,360.0C702.5,360.4 710.4,360.0 715.0,362.5C719.6,365.0 725.2,370.8 727.5,375.0C729.8,379.2 730.0,383.5 728.8,387.5C727.5,391.5 724.4,396.1 720.0,398.8C715.6,401.5 705.4,403.0 702.5,403.8" stroke="#cfcfcc" stroke-width="1.9"/><path d="M700.0,360.0C702.5,360.4 710.4,360.0 715.0,362.5C719.6,365.0 725.2,370.8 727.5,375.0C729.8,379.2 730.0,383.5 728.8,387.5C727.5,391.5 724.4,396.1 720.0,398.8C715.6,401.5 705.4,403.0 702.5,403.8" stroke="#f4f4f2" stroke-width="0.7" opacity="0.7"/><path d="M640,372 L700,349.5 L707,350 L703,355 L646,379.5 L640,379Z" fill="#c6c6c2" stroke="#808080" stroke-width="1"/><path d="M668,357 L700,345.5 L704,347" stroke="#cfcfcc" stroke-width="2.2"/><path d="M646,375 L698,353" stroke="#f0f0ee" stroke-width="1.4"/><path d="M634.0,353.0C635.2,351.3 638.3,351.3 640.0,352.0C641.7,352.7 643.5,355.0 644.0,357.0C644.5,359.0 642.5,362.0 643.0,364.0C643.5,366.0 646.5,366.8 647.0,369.0C647.5,371.2 647.0,375.1 646.0,377.0C645.0,378.9 642.7,380.5 641.0,380.5C639.3,380.5 636.7,378.9 636.0,377.0C635.3,375.1 637.5,371.5 637.0,369.0C636.5,366.5 633.5,364.7 633.0,362.0C632.5,359.3 632.8,354.7 634.0,353.0Z" fill="#b9b9b5" stroke="#7d7d7a" stroke-width="1"/><ellipse cx="639" cy="359" rx="2.2" ry="3.4" fill="#55555a"/></g>
</g>
<g fill="none" stroke="#fff" stroke-width="3" stroke-linejoin="miter">
<line x1="154" y1="366" x2="154" y2="546" stroke-width="3.2"/>
<polyline points="473.4,368 459.1,607.6 588,616.6" stroke-width="2.7"/>
</g>
<g id="pentagons">
<polygon points="415.6,88 482,88 502,150 449,188 396,150" fill="#fff"/>
<polygon points="122,554 188,554 207,615 155,655 102,615" fill="#fff"/>
<polygon points="634,575 702,575 721,637 668,675 615,637" fill="#fff"/>
<g clip-path="url(#cp1)" fill="none" stroke-linecap="round" stroke-linejoin="round">
 <g stroke="#3c3c3c">
 <path d="M428.5,88.8 C423.5,91 421.8,96.5 425,101.5 L436.6,110.8 L440.6,108.6 L441.8,97.5 C441.2,91.5 434.5,86.6 428.5,88.8 Z" stroke-width="2.3"/>
 <path d="M429.5,92.5 C427,94 426.6,97 428.6,99.6 L436.5,106 L438,97.8 C437.6,94 433.5,91 429.5,92.5Z" stroke-width="0.9" stroke="#888"/>
 <path d="M436.8,110.6 L456,136.5 M440.8,108.6 L460,134.5" stroke-width="1.6"/>
 <path d="M457.5,136 C463.5,148 463,165 451.5,172 C442,177 431.5,169.5 427,159.5" stroke-width="2.8"/><path d="M427.6,161 L426,156 L421.8,146.5 L424.5,156.5Z" stroke-width="1" fill="#3c3c3c"/>
 <path d="M424.8,154 L429.2,151.6" stroke-width="1.4"/>
 <path d="M459.5,136.5 C466,147 480,151.5 490,144.5 C496.5,139 496.5,131.5 494,127" stroke-width="2.8"/><path d="M495,128.6 L491.5,122.5 L476.5,109 L490,125Z" stroke-width="1" fill="#3c3c3c"/>
 <path d="M488.8,121.8 L486.2,126.6" stroke-width="1.4"/>
 <path d="M459.5,139 L465,151 L469.2,162 L464.2,150" stroke-width="1.8" stroke="#5a5a5a"/>
 </g>
 <g stroke="#c8c8c8" stroke-width="0.9">
 <path d="M459,139.5 C464.5,150 464.5,164.5 452,170.8 C443.5,175 434,168 429.5,159.5"/>
 <path d="M461.5,138 C468,146.5 479.5,149.6 488.6,143.5 C494,139 494.4,132.5 492.2,128.2"/>
 </g>
</g>
<path d="M426.8,84.8 L428.2,88.6" stroke="#ddd" stroke-width="1.4" fill="none"/>
<g clip-path="url(#cp2)"><use href="#fishbody" transform="translate(8,235.5)"/></g>
<g clip-path="url(#cp3)"><use href="#fishbody" transform="translate(260.5,279.2)"/></g>

<ellipse cx="500.8" cy="128.2" rx="6.2" ry="6.2" fill="#f01414" filter="url(#fblur)"/><ellipse cx="154.4" cy="548.6" rx="4.6" ry="4.6" fill="#f01414" filter="url(#fblur)"/><ellipse cx="591.8" cy="617.6" rx="4.6" ry="4.6" fill="#f01414" filter="url(#fblur)"/>
</g>
<g id="markers"><ellipse cx="154" cy="362.3" rx="7.2" ry="5.8" fill="#f01414" filter="url(#fblur)"/><ellipse cx="154" cy="362.3" rx="3.38" ry="2.61" fill="#fff" filter="url(#fblur)"/><ellipse cx="472.2" cy="364.5" rx="6.3" ry="6" fill="#f01414" filter="url(#fblur)"/><ellipse cx="472.2" cy="364.5" rx="2.96" ry="2.70" fill="#fff" filter="url(#fblur)"/><ellipse cx="666.6" cy="361" rx="6.3" ry="6" fill="#f01414" filter="url(#fblur)"/><ellipse cx="666.6" cy="361" rx="2.96" ry="2.70" fill="#fff" filter="url(#fblur)"/></g>

<g opacity="0.995"><text class="lbl" transform="translate(345.8,259.2) scale(1.195,1)" font-size="15">HIGH QUALITY SHARPENED HOOK</text>
<text class="lbl" transform="translate(118,667.6) scale(1.22,1)" font-size="14.2">3D HIGH SIMULATION EYES</text></g>

</svg>
</body></html>
